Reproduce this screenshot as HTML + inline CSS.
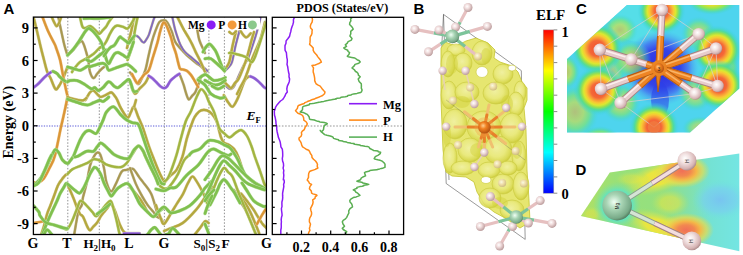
<!DOCTYPE html>
<html><head><meta charset="utf-8">
<style>
html,body{margin:0;padding:0;background:#fff;width:743px;height:255px;overflow:hidden}
svg{display:block}
.lab{font-family:"Liberation Sans",sans-serif;font-weight:bold;font-size:15px}
.ser{font-family:"Liberation Serif",serif;font-weight:bold}
</style></head><body>
<svg width="743" height="255" viewBox="0 0 743 255">
<defs>
 <clipPath id="clipP"><rect x="272.3" y="17.3" width="131.3" height="217.2"/></clipPath>
 <clipPath id="clipA"><rect x="33.4" y="17.1" width="233" height="217.4"/></clipPath>
 <linearGradient id="cbar" x1="0" y1="1" x2="0" y2="0">
  <stop offset="0" stop-color="#0000ff"/>
  <stop offset="0.25" stop-color="#00ffff"/>
  <stop offset="0.5" stop-color="#00ff00"/>
  <stop offset="0.75" stop-color="#ffff00"/>
  <stop offset="1" stop-color="#ff0000"/>
 </linearGradient>
</defs>
<!-- Panel labels -->
<text x="3.5" y="14.2" class="lab">A</text>
<text x="413.5" y="14.2" class="lab">B</text>
<text x="576" y="14.2" class="lab">C</text>
<text x="575.5" y="174.8" class="lab">D</text>

<!-- ===== Panel A frame ===== -->
<g id="panelA">
 <g stroke="#8a8a8a" stroke-width="0.95" stroke-dasharray="1.5,1.7" fill="none">
  <line x1="67.8" y1="17.5" x2="67.8" y2="234"/>
  <line x1="99.3" y1="17.5" x2="99.3" y2="234"/>
  <line x1="128.1" y1="17.5" x2="128.1" y2="234"/>
  <line x1="164.4" y1="17.5" x2="164.4" y2="234"/>
  <line x1="208.9" y1="17.5" x2="208.9" y2="234"/>
  <line x1="224.4" y1="17.5" x2="224.4" y2="234"/>
 </g>
 <line x1="33.4" y1="126" x2="266.4" y2="126" stroke="#5a5ad8" stroke-width="1" stroke-dasharray="1.3,1.3"/>
 <g id="bands" fill="none" stroke-width="2.5" stroke-linecap="round" stroke-linejoin="round" clip-path="url(#clipA)">
<path stroke="#c8c0a0" stroke-width="2.8" d="M58.3,17.0 C58.8,19.2 60.0,25.4 61.0,30.0 C62.0,34.6 63.2,40.2 64.2,44.4 C65.2,48.6 66.8,53.2 67.3,55.0"/><path stroke="#a89850" stroke-width="1.9" d="M58.3,17.0 C58.8,19.2 60.0,25.4 61.0,30.0 C62.0,34.6 63.2,40.2 64.2,44.4 C65.2,48.6 66.8,53.2 67.3,55.0"/>
<path stroke="#c8c0a0" stroke-width="2.8" d="M67.5,55.5 C68.5,54.5 72.0,51.2 73.6,49.5 C75.2,47.8 75.7,46.4 77.0,45.0 C78.3,43.6 80.3,40.9 81.5,41.0 C82.7,41.1 83.2,43.2 84.2,45.7 C85.2,48.2 86.7,53.9 87.4,56.3 C88.1,58.7 88.0,57.4 88.4,60.0 C88.8,62.6 89.1,69.0 90.0,72.0 C90.9,75.0 92.4,77.9 93.6,78.2 C94.8,78.5 95.8,75.4 97.0,74.0 C98.2,72.6 99.4,71.2 100.6,70.0 C101.8,68.8 103.4,67.5 104.0,67.0"/><path stroke="#a89850" stroke-width="1.9" d="M67.5,55.5 C68.5,54.5 72.0,51.2 73.6,49.5 C75.2,47.8 75.7,46.4 77.0,45.0 C78.3,43.6 80.3,40.9 81.5,41.0 C82.7,41.1 83.2,43.2 84.2,45.7 C85.2,48.2 86.7,53.9 87.4,56.3 C88.1,58.7 88.0,57.4 88.4,60.0 C88.8,62.6 89.1,69.0 90.0,72.0 C90.9,75.0 92.4,77.9 93.6,78.2 C94.8,78.5 95.8,75.4 97.0,74.0 C98.2,72.6 99.4,71.2 100.6,70.0 C101.8,68.8 103.4,67.5 104.0,67.0"/>
<path stroke="#c8c0a0" stroke-width="2.8" d="M74.2,234.5 C74.9,230.8 77.0,216.9 78.3,212.0 C79.6,207.1 81.0,207.4 81.8,205.0 C82.6,202.6 82.2,200.8 83.0,197.3 C83.8,193.8 85.3,189.2 86.5,184.0 C87.7,178.8 88.8,170.3 90.0,165.8 C91.2,161.3 92.3,159.2 93.6,157.0 C94.8,154.8 96.3,152.8 97.5,152.5 C98.7,152.2 99.4,152.4 100.5,155.0 C101.6,157.6 103.0,163.6 104.0,168.1 C105.0,172.6 105.2,178.1 106.4,182.0 C107.6,185.9 109.5,191.1 111.1,191.4 C112.7,191.7 114.0,187.3 115.8,184.0 C117.6,180.7 119.9,173.9 121.7,171.6 C123.5,169.2 124.6,170.4 126.4,169.9 C128.2,169.4 130.9,168.6 132.3,168.7 C133.7,168.8 133.5,169.0 134.7,170.5 C135.9,172.0 138.0,175.6 139.4,177.5 C140.8,179.4 140.9,179.3 142.9,182.0 C144.9,184.7 148.8,188.8 151.2,193.8 C153.6,198.8 155.5,208.0 157.1,212.0 C158.7,216.0 159.4,216.0 160.6,218.0 C161.8,220.0 163.5,222.8 164.1,223.8"/><path stroke="#a89850" stroke-width="1.9" d="M74.2,234.5 C74.9,230.8 77.0,216.9 78.3,212.0 C79.6,207.1 81.0,207.4 81.8,205.0 C82.6,202.6 82.2,200.8 83.0,197.3 C83.8,193.8 85.3,189.2 86.5,184.0 C87.7,178.8 88.8,170.3 90.0,165.8 C91.2,161.3 92.3,159.2 93.6,157.0 C94.8,154.8 96.3,152.8 97.5,152.5 C98.7,152.2 99.4,152.4 100.5,155.0 C101.6,157.6 103.0,163.6 104.0,168.1 C105.0,172.6 105.2,178.1 106.4,182.0 C107.6,185.9 109.5,191.1 111.1,191.4 C112.7,191.7 114.0,187.3 115.8,184.0 C117.6,180.7 119.9,173.9 121.7,171.6 C123.5,169.2 124.6,170.4 126.4,169.9 C128.2,169.4 130.9,168.6 132.3,168.7 C133.7,168.8 133.5,169.0 134.7,170.5 C135.9,172.0 138.0,175.6 139.4,177.5 C140.8,179.4 140.9,179.3 142.9,182.0 C144.9,184.7 148.8,188.8 151.2,193.8 C153.6,198.8 155.5,208.0 157.1,212.0 C158.7,216.0 159.4,216.0 160.6,218.0 C161.8,220.0 163.5,222.8 164.1,223.8"/>
<path stroke="#c8c0a0" stroke-width="2.6" d="M134.7,35.5 C135.1,35.6 136.2,35.6 137.0,36.0 C137.8,36.4 138.6,37.1 139.4,38.0 C140.2,38.9 141.2,40.8 142.0,41.5 C142.8,42.2 143.4,42.8 144.1,42.5 C144.8,42.2 145.2,41.2 146.0,40.0 C146.8,38.8 148.0,37.0 148.8,35.0 C149.6,33.0 150.2,30.5 151.0,28.0 C151.8,25.5 152.9,21.8 153.5,20.0 C154.1,18.2 154.3,17.9 154.5,17.5"/><path stroke="#8068c0" stroke-width="1.7" d="M134.7,35.5 C135.1,35.6 136.2,35.6 137.0,36.0 C137.8,36.4 138.6,37.1 139.4,38.0 C140.2,38.9 141.2,40.8 142.0,41.5 C142.8,42.2 143.4,42.8 144.1,42.5 C144.8,42.2 145.2,41.2 146.0,40.0 C146.8,38.8 148.0,37.0 148.8,35.0 C149.6,33.0 150.2,30.5 151.0,28.0 C151.8,25.5 152.9,21.8 153.5,20.0 C154.1,18.2 154.3,17.9 154.5,17.5"/>
<path stroke="#c8c0a0" stroke-width="2.8" d="M130.0,72.4 C130.7,73.3 132.6,76.0 134.0,78.0 C135.4,80.0 137.0,83.8 138.2,84.1 C139.4,84.4 139.8,82.3 141.0,80.0 C142.2,77.7 144.1,74.2 145.3,70.2 C146.6,66.2 147.4,60.7 148.5,56.0 C149.6,51.3 150.7,46.0 151.8,42.0 C152.9,38.0 153.7,35.3 155.0,32.0 C156.3,28.7 157.9,23.9 159.4,22.0 C160.9,20.1 162.8,20.3 164.1,20.3 C165.4,20.3 165.7,20.1 167.0,22.0 C168.3,23.9 170.4,28.2 171.8,31.5 C173.2,34.8 173.5,38.8 175.3,42.0 C177.1,45.2 180.4,48.4 182.8,51.0 C185.2,53.6 187.4,55.8 189.7,57.8 C192.0,59.8 194.7,61.9 196.5,63.3 C198.3,64.7 199.1,64.7 200.7,66.1 C202.3,67.5 205.3,70.6 206.2,71.5"/><path stroke="#a89850" stroke-width="1.9" d="M130.0,72.4 C130.7,73.3 132.6,76.0 134.0,78.0 C135.4,80.0 137.0,83.8 138.2,84.1 C139.4,84.4 139.8,82.3 141.0,80.0 C142.2,77.7 144.1,74.2 145.3,70.2 C146.6,66.2 147.4,60.7 148.5,56.0 C149.6,51.3 150.7,46.0 151.8,42.0 C152.9,38.0 153.7,35.3 155.0,32.0 C156.3,28.7 157.9,23.9 159.4,22.0 C160.9,20.1 162.8,20.3 164.1,20.3 C165.4,20.3 165.7,20.1 167.0,22.0 C168.3,23.9 170.4,28.2 171.8,31.5 C173.2,34.8 173.5,38.8 175.3,42.0 C177.1,45.2 180.4,48.4 182.8,51.0 C185.2,53.6 187.4,55.8 189.7,57.8 C192.0,59.8 194.7,61.9 196.5,63.3 C198.3,64.7 199.1,64.7 200.7,66.1 C202.3,67.5 205.3,70.6 206.2,71.5"/>
<path stroke="#c8c0a0" stroke-width="2.8" d="M179.4,73.9 C179.8,74.8 180.8,77.2 181.5,79.0 C182.2,80.8 182.9,82.7 183.7,85.0 C184.4,87.3 185.2,90.6 186.0,93.0 C186.8,95.4 187.8,99.0 188.8,99.5 C189.8,100.0 190.9,97.2 192.0,96.0 C193.1,94.8 194.3,94.0 195.3,92.2 C196.3,90.4 197.2,87.5 198.2,85.0 C199.1,82.5 200.5,78.3 201.0,77.0"/><path stroke="#a89850" stroke-width="1.9" d="M179.4,73.9 C179.8,74.8 180.8,77.2 181.5,79.0 C182.2,80.8 182.9,82.7 183.7,85.0 C184.4,87.3 185.2,90.6 186.0,93.0 C186.8,95.4 187.8,99.0 188.8,99.5 C189.8,100.0 190.9,97.2 192.0,96.0 C193.1,94.8 194.3,94.0 195.3,92.2 C196.3,90.4 197.2,87.5 198.2,85.0 C199.1,82.5 200.5,78.3 201.0,77.0"/>
<path stroke="#c8c0a0" stroke-width="2.8" d="M130.0,168.1 C131.0,170.8 133.9,179.3 135.9,184.0 C137.9,188.7 140.1,192.5 142.0,196.0 C143.9,199.5 145.7,202.3 147.6,205.0 C149.5,207.7 152.1,210.2 153.5,212.0 C154.9,213.8 155.0,215.0 156.0,216.0 C157.0,217.0 158.8,217.7 159.4,218.0"/><path stroke="#a89850" stroke-width="1.9" d="M130.0,168.1 C131.0,170.8 133.9,179.3 135.9,184.0 C137.9,188.7 140.1,192.5 142.0,196.0 C143.9,199.5 145.7,202.3 147.6,205.0 C149.5,207.7 152.1,210.2 153.5,212.0 C154.9,213.8 155.0,215.0 156.0,216.0 C157.0,217.0 158.8,217.7 159.4,218.0"/>
<path stroke="#c8c0a0" stroke-width="2.6" d="M172.4,17.5 C172.9,19.6 174.2,26.4 175.3,30.3 C176.4,34.2 177.9,38.3 178.8,40.9 C179.8,43.5 180.0,44.1 181.0,46.0 C182.0,47.9 183.2,50.1 185.0,52.0 C186.8,53.9 189.3,55.7 191.5,57.5 C193.7,59.3 196.2,61.5 198.0,63.0 C199.8,64.5 200.9,65.2 202.5,66.5 C204.1,67.8 206.7,70.2 207.5,71.0"/><path stroke="#8068c0" stroke-width="1.7" d="M172.4,17.5 C172.9,19.6 174.2,26.4 175.3,30.3 C176.4,34.2 177.9,38.3 178.8,40.9 C179.8,43.5 180.0,44.1 181.0,46.0 C182.0,47.9 183.2,50.1 185.0,52.0 C186.8,53.9 189.3,55.7 191.5,57.5 C193.7,59.3 196.2,61.5 198.0,63.0 C199.8,64.5 200.9,65.2 202.5,66.5 C204.1,67.8 206.7,70.2 207.5,71.0"/>
<path stroke="#c8c0a0" stroke-width="2.8" d="M197.0,28.0 C197.4,30.0 198.2,36.4 199.3,40.0 C200.4,43.6 202.5,47.4 203.4,49.6 C204.3,51.8 204.7,52.4 205.0,53.0"/><path stroke="#a89850" stroke-width="1.9" d="M197.0,28.0 C197.4,30.0 198.2,36.4 199.3,40.0 C200.4,43.6 202.5,47.4 203.4,49.6 C204.3,51.8 204.7,52.4 205.0,53.0"/>
<path stroke="#c8c0a0" stroke-width="2.6" d="M224.6,71.0 C225.2,70.5 226.8,69.5 228.0,68.0 C229.2,66.5 230.8,65.7 232.0,62.0 C233.2,58.3 234.3,51.1 235.5,46.0 C236.7,40.9 238.7,33.8 239.3,31.3"/><path stroke="#8068c0" stroke-width="1.7" d="M224.6,71.0 C225.2,70.5 226.8,69.5 228.0,68.0 C229.2,66.5 230.8,65.7 232.0,62.0 C233.2,58.3 234.3,51.1 235.5,46.0 C236.7,40.9 238.7,33.8 239.3,31.3"/>
<path stroke="#c8c0a0" stroke-width="2.6" d="M226.0,86.0 C226.7,86.5 228.7,89.0 230.0,89.0 C231.3,89.0 232.4,88.9 234.1,86.2 C235.8,83.5 238.3,76.5 240.0,73.0 C241.7,69.5 242.6,67.5 244.0,65.0 C245.4,62.5 246.5,62.2 248.2,58.0 C249.9,53.8 253.0,44.2 254.4,40.0 C255.8,35.8 255.8,35.3 256.5,33.0 C257.2,30.7 257.8,28.6 258.5,26.0 C259.2,23.4 260.2,18.9 260.5,17.5"/><path stroke="#8068c0" stroke-width="1.7" d="M226.0,86.0 C226.7,86.5 228.7,89.0 230.0,89.0 C231.3,89.0 232.4,88.9 234.1,86.2 C235.8,83.5 238.3,76.5 240.0,73.0 C241.7,69.5 242.6,67.5 244.0,65.0 C245.4,62.5 246.5,62.2 248.2,58.0 C249.9,53.8 253.0,44.2 254.4,40.0 C255.8,35.8 255.8,35.3 256.5,33.0 C257.2,30.7 257.8,28.6 258.5,26.0 C259.2,23.4 260.2,18.9 260.5,17.5"/>
<path stroke="#c8c0a0" stroke-width="2.8" d="M233.9,190.0 C234.9,191.8 237.9,197.4 240.0,201.0 C242.1,204.6 244.7,208.2 246.5,211.7 C248.3,215.2 249.5,218.4 251.0,222.0 C252.5,225.6 254.8,231.4 255.5,233.3"/><path stroke="#a89850" stroke-width="1.9" d="M233.9,190.0 C234.9,191.8 237.9,197.4 240.0,201.0 C242.1,204.6 244.7,208.2 246.5,211.7 C248.3,215.2 249.5,218.4 251.0,222.0 C252.5,225.6 254.8,231.4 255.5,233.3"/>
<path stroke="#d8d0a0" stroke-width="3.1" d="M33.4,19.0 C33.5,19.1 33.1,15.5 34.2,19.7 C35.3,23.9 38.6,38.0 40.1,44.4 C41.6,50.8 42.3,53.5 43.5,58.0 C44.7,62.5 45.9,68.0 47.1,71.4 C48.3,74.8 49.2,75.3 50.6,78.2 C52.0,81.1 54.0,87.7 55.4,89.0 C56.8,90.3 57.6,88.0 59.0,86.0 C60.4,84.0 62.2,80.2 63.6,77.0 C65.0,73.8 66.8,68.7 67.5,67.0"/><path stroke="#b4a83e" stroke-width="2.2" d="M33.4,19.0 C33.5,19.1 33.1,15.5 34.2,19.7 C35.3,23.9 38.6,38.0 40.1,44.4 C41.6,50.8 42.3,53.5 43.5,58.0 C44.7,62.5 45.9,68.0 47.1,71.4 C48.3,74.8 49.2,75.3 50.6,78.2 C52.0,81.1 54.0,87.7 55.4,89.0 C56.8,90.3 57.6,88.0 59.0,86.0 C60.4,84.0 62.2,80.2 63.6,77.0 C65.0,73.8 66.8,68.7 67.5,67.0"/>
<path stroke="#f0c890" stroke-width="3.1" d="M42.5,17.0 C43.4,19.3 46.0,26.4 48.0,31.0 C50.0,35.6 53.4,41.4 54.8,44.4 C56.2,47.4 55.6,46.5 56.5,49.0 C57.4,51.5 59.0,55.8 60.0,59.6 C61.0,63.4 61.6,67.9 62.4,72.0 C63.2,76.1 63.9,80.1 64.8,84.1 C65.6,88.1 67.0,94.0 67.5,96.0"/><path stroke="#da9637" stroke-width="2.2" d="M42.5,17.0 C43.4,19.3 46.0,26.4 48.0,31.0 C50.0,35.6 53.4,41.4 54.8,44.4 C56.2,47.4 55.6,46.5 56.5,49.0 C57.4,51.5 59.0,55.8 60.0,59.6 C61.0,63.4 61.6,67.9 62.4,72.0 C63.2,76.1 63.9,80.1 64.8,84.1 C65.6,88.1 67.0,94.0 67.5,96.0"/>
<path stroke="#d8d0a0" stroke-width="3.1" d="M51.8,17.0 C52.2,17.8 53.2,20.5 54.0,22.0 C54.8,23.5 55.7,26.0 56.5,26.2 C57.3,26.4 58.2,24.5 59.0,23.0 C59.8,21.5 60.8,18.0 61.2,17.0"/><path stroke="#b4a83e" stroke-width="2.2" d="M51.8,17.0 C52.2,17.8 53.2,20.5 54.0,22.0 C54.8,23.5 55.7,26.0 56.5,26.2 C57.3,26.4 58.2,24.5 59.0,23.0 C59.8,21.5 60.8,18.0 61.2,17.0"/>
<path stroke="#f0c890" stroke-width="3.1" d="M67.5,97.0 C67.0,99.7 65.3,108.0 64.2,113.0 C63.1,118.0 62.6,119.8 61.0,127.0 C59.4,134.2 56.7,149.2 54.8,156.0 C52.9,162.8 51.4,164.2 49.5,168.0 C47.6,171.8 45.6,176.2 43.6,178.7 C41.6,181.2 39.4,182.2 37.7,182.8 C36.0,183.4 34.1,182.3 33.4,182.2"/><path stroke="#da9637" stroke-width="2.2" d="M67.5,97.0 C67.0,99.7 65.3,108.0 64.2,113.0 C63.1,118.0 62.6,119.8 61.0,127.0 C59.4,134.2 56.7,149.2 54.8,156.0 C52.9,162.8 51.4,164.2 49.5,168.0 C47.6,171.8 45.6,176.2 43.6,178.7 C41.6,181.2 39.4,182.2 37.7,182.8 C36.0,183.4 34.1,182.3 33.4,182.2"/>
<path stroke="#d8d0a0" stroke-width="3.1" d="M41.2,234.5 C41.7,233.1 43.0,229.4 44.0,226.0 C45.0,222.6 46.0,217.5 47.1,214.0 C48.2,210.5 49.5,208.0 50.6,205.0 C51.8,202.0 52.8,199.2 54.0,196.0 C55.2,192.8 56.7,188.3 57.7,186.0 C58.7,183.7 58.8,183.7 60.0,182.0 C61.2,180.3 63.5,177.1 64.8,175.8 C66.0,174.5 67.0,174.3 67.5,174.0"/><path stroke="#b4a83e" stroke-width="2.2" d="M41.2,234.5 C41.7,233.1 43.0,229.4 44.0,226.0 C45.0,222.6 46.0,217.5 47.1,214.0 C48.2,210.5 49.5,208.0 50.6,205.0 C51.8,202.0 52.8,199.2 54.0,196.0 C55.2,192.8 56.7,188.3 57.7,186.0 C58.7,183.7 58.8,183.7 60.0,182.0 C61.2,180.3 63.5,177.1 64.8,175.8 C66.0,174.5 67.0,174.3 67.5,174.0"/>
<path stroke="#f0c890" stroke-width="3.1" d="M33.4,223.2 C34.9,222.9 40.3,221.7 42.4,221.5 C44.5,221.3 45.4,221.9 46.0,222.0"/><path stroke="#da9637" stroke-width="2.2" d="M33.4,223.2 C34.9,222.9 40.3,221.7 42.4,221.5 C44.5,221.3 45.4,221.9 46.0,222.0"/>
<path stroke="#d8d0a0" stroke-width="3.1" d="M85.4,100.0 C86.2,98.7 88.6,94.0 90.0,92.4 C91.4,90.8 92.2,90.1 93.6,90.6 C95.0,91.1 97.1,94.2 98.3,95.3 C99.5,96.4 99.7,97.1 101.0,97.0 C102.3,96.9 104.7,95.5 106.4,94.7 C108.1,93.9 109.8,92.4 111.1,92.4 C112.4,92.5 113.0,93.8 114.0,95.0 C115.0,96.2 115.9,97.3 117.0,99.4 C118.1,101.5 118.9,104.5 120.5,107.4 C122.1,110.3 125.0,115.2 126.4,116.8 C127.8,118.4 128.0,117.6 128.8,116.8 C129.6,116.0 130.1,113.7 131.0,112.0 C131.9,110.3 132.9,106.0 134.1,106.8 C135.3,107.6 136.7,113.3 138.2,116.8 C139.7,120.3 141.1,123.1 142.9,128.0 C144.7,132.9 147.1,141.2 148.8,146.0 C150.5,150.8 151.4,153.0 153.0,157.0 C154.6,161.0 156.7,166.5 158.2,170.0 C159.7,173.5 161.0,176.1 162.0,178.0 C163.0,179.9 163.8,180.9 164.2,181.5"/><path stroke="#b4a83e" stroke-width="2.2" d="M85.4,100.0 C86.2,98.7 88.6,94.0 90.0,92.4 C91.4,90.8 92.2,90.1 93.6,90.6 C95.0,91.1 97.1,94.2 98.3,95.3 C99.5,96.4 99.7,97.1 101.0,97.0 C102.3,96.9 104.7,95.5 106.4,94.7 C108.1,93.9 109.8,92.4 111.1,92.4 C112.4,92.5 113.0,93.8 114.0,95.0 C115.0,96.2 115.9,97.3 117.0,99.4 C118.1,101.5 118.9,104.5 120.5,107.4 C122.1,110.3 125.0,115.2 126.4,116.8 C127.8,118.4 128.0,117.6 128.8,116.8 C129.6,116.0 130.1,113.7 131.0,112.0 C131.9,110.3 132.9,106.0 134.1,106.8 C135.3,107.6 136.7,113.3 138.2,116.8 C139.7,120.3 141.1,123.1 142.9,128.0 C144.7,132.9 147.1,141.2 148.8,146.0 C150.5,150.8 151.4,153.0 153.0,157.0 C154.6,161.0 156.7,166.5 158.2,170.0 C159.7,173.5 161.0,176.1 162.0,178.0 C163.0,179.9 163.8,180.9 164.2,181.5"/>
<path stroke="#d8d0a0" stroke-width="3.1" d="M67.5,97.0 C67.9,97.2 68.4,97.5 70.0,98.0 C71.6,98.5 74.9,99.4 77.1,99.8 C79.3,100.2 81.4,100.7 83.0,100.4 C84.6,100.1 85.9,98.4 86.5,98.0"/><path stroke="#b4a83e" stroke-width="2.2" d="M67.5,97.0 C67.9,97.2 68.4,97.5 70.0,98.0 C71.6,98.5 74.9,99.4 77.1,99.8 C79.3,100.2 81.4,100.7 83.0,100.4 C84.6,100.1 85.9,98.4 86.5,98.0"/>
<path stroke="#d8d0a0" stroke-width="3.1" d="M67.5,184.4 C68.5,186.8 72.0,194.6 73.6,198.5 C75.2,202.4 76.0,205.3 77.1,207.9 C78.2,210.5 79.0,212.5 80.0,214.0 C81.0,215.5 81.7,214.6 83.0,216.8 C84.3,219.0 86.5,225.2 87.7,227.4 C88.9,229.7 89.1,230.4 90.0,230.3 C90.9,230.2 91.8,228.3 93.0,227.0 C94.2,225.7 95.8,224.4 97.1,222.6 C98.4,220.8 99.8,217.8 101.0,216.0 C102.2,214.2 102.8,213.5 104.0,212.0 C105.2,210.5 106.9,208.5 108.0,207.0 C109.1,205.5 109.4,202.5 110.5,203.0 C111.6,203.5 113.0,206.3 114.6,210.0 C116.2,213.7 118.4,221.3 120.0,225.0 C121.6,228.7 122.7,230.6 124.0,232.0 C125.3,233.4 125.0,233.0 127.6,233.2 C130.2,233.4 137.4,233.2 139.4,233.2"/><path stroke="#b4a83e" stroke-width="2.2" d="M67.5,184.4 C68.5,186.8 72.0,194.6 73.6,198.5 C75.2,202.4 76.0,205.3 77.1,207.9 C78.2,210.5 79.0,212.5 80.0,214.0 C81.0,215.5 81.7,214.6 83.0,216.8 C84.3,219.0 86.5,225.2 87.7,227.4 C88.9,229.7 89.1,230.4 90.0,230.3 C90.9,230.2 91.8,228.3 93.0,227.0 C94.2,225.7 95.8,224.4 97.1,222.6 C98.4,220.8 99.8,217.8 101.0,216.0 C102.2,214.2 102.8,213.5 104.0,212.0 C105.2,210.5 106.9,208.5 108.0,207.0 C109.1,205.5 109.4,202.5 110.5,203.0 C111.6,203.5 113.0,206.3 114.6,210.0 C116.2,213.7 118.4,221.3 120.0,225.0 C121.6,228.7 122.7,230.6 124.0,232.0 C125.3,233.4 125.0,233.0 127.6,233.2 C130.2,233.4 137.4,233.2 139.4,233.2"/>
<path stroke="#d8d0a0" stroke-width="3.1" d="M127.0,48.0 C127.3,46.7 128.2,43.0 129.0,40.0 C129.8,37.0 130.7,33.8 131.5,30.0 C132.3,26.2 133.6,19.6 134.0,17.5"/><path stroke="#b4a83e" stroke-width="2.2" d="M127.0,48.0 C127.3,46.7 128.2,43.0 129.0,40.0 C129.8,37.0 130.7,33.8 131.5,30.0 C132.3,26.2 133.6,19.6 134.0,17.5"/>
<path stroke="#f0c890" stroke-width="3.1" d="M132.0,74.0 C132.8,75.5 135.7,82.0 137.0,83.0 C138.3,84.0 138.8,81.4 140.0,80.0 C141.2,78.6 142.6,76.3 144.1,74.7 C145.6,73.1 147.3,73.2 148.8,70.2 C150.3,67.2 151.5,61.7 153.0,57.0 C154.5,52.3 156.4,46.2 157.6,42.0 C158.8,37.8 159.1,35.1 160.0,32.0 C160.9,28.9 162.0,24.5 163.0,23.2 C164.0,21.9 164.6,22.2 165.9,24.4 C167.2,26.6 169.4,32.8 170.6,36.2 C171.8,39.6 172.1,42.1 173.0,45.0 C173.9,47.9 175.1,50.4 176.0,53.7 C176.9,57.0 178.0,62.2 178.7,64.7 C179.4,67.2 179.4,68.0 180.1,68.8 C180.8,69.6 181.7,69.2 182.8,69.5 C184.0,69.8 185.6,70.0 187.0,70.9 C188.4,71.8 189.6,73.2 191.0,75.0 C192.4,76.8 194.1,79.9 195.3,81.9 C196.5,83.9 197.7,86.2 198.2,87.0"/><path stroke="#da9637" stroke-width="2.2" d="M132.0,74.0 C132.8,75.5 135.7,82.0 137.0,83.0 C138.3,84.0 138.8,81.4 140.0,80.0 C141.2,78.6 142.6,76.3 144.1,74.7 C145.6,73.1 147.3,73.2 148.8,70.2 C150.3,67.2 151.5,61.7 153.0,57.0 C154.5,52.3 156.4,46.2 157.6,42.0 C158.8,37.8 159.1,35.1 160.0,32.0 C160.9,28.9 162.0,24.5 163.0,23.2 C164.0,21.9 164.6,22.2 165.9,24.4 C167.2,26.6 169.4,32.8 170.6,36.2 C171.8,39.6 172.1,42.1 173.0,45.0 C173.9,47.9 175.1,50.4 176.0,53.7 C176.9,57.0 178.0,62.2 178.7,64.7 C179.4,67.2 179.4,68.0 180.1,68.8 C180.8,69.6 181.7,69.2 182.8,69.5 C184.0,69.8 185.6,70.0 187.0,70.9 C188.4,71.8 189.6,73.2 191.0,75.0 C192.4,76.8 194.1,79.9 195.3,81.9 C196.5,83.9 197.7,86.2 198.2,87.0"/>
<path stroke="#d8d0a0" stroke-width="3.1" d="M130.0,81.8 C130.8,83.8 133.1,92.3 134.7,93.5 C136.3,94.7 137.6,90.6 139.4,88.8 C141.2,87.0 143.7,85.1 145.3,82.9 C146.9,80.8 148.2,77.1 148.8,75.9"/><path stroke="#b4a83e" stroke-width="2.2" d="M130.0,81.8 C130.8,83.8 133.1,92.3 134.7,93.5 C136.3,94.7 137.6,90.6 139.4,88.8 C141.2,87.0 143.7,85.1 145.3,82.9 C146.9,80.8 148.2,77.1 148.8,75.9"/>
<path stroke="#d8d0a0" stroke-width="3.1" d="M134.1,106.8 L136.0,100.0"/><path stroke="#b4a83e" stroke-width="2.2" d="M134.1,106.8 L136.0,100.0"/>
<path stroke="#d8d0a0" stroke-width="3.1" d="M164.1,183.0 C165.1,181.8 167.9,178.2 170.0,176.0 C172.1,173.8 174.4,173.2 176.5,170.0 C178.6,166.8 180.6,162.3 182.3,157.0 C184.1,151.7 185.2,144.2 187.0,138.0 C188.8,131.8 191.6,124.0 193.2,120.0 C194.8,116.0 195.5,115.6 196.8,114.0 C198.1,112.4 199.4,111.0 201.1,110.4 C202.8,109.8 205.1,109.8 206.9,110.4 C208.7,111.0 210.4,112.2 212.0,114.0 C213.6,115.8 215.4,118.5 216.6,121.2 C217.8,123.9 218.3,127.3 219.0,130.0 C219.7,132.7 220.2,135.3 221.0,137.4 C221.8,139.5 222.5,141.2 223.8,142.5 C225.1,143.8 227.3,143.9 229.0,145.0 C230.7,146.1 232.4,147.0 234.0,149.0 C235.6,151.0 237.0,153.8 238.3,157.0 C239.6,160.2 241.4,166.2 242.0,168.0"/><path stroke="#b4a83e" stroke-width="2.2" d="M164.1,183.0 C165.1,181.8 167.9,178.2 170.0,176.0 C172.1,173.8 174.4,173.2 176.5,170.0 C178.6,166.8 180.6,162.3 182.3,157.0 C184.1,151.7 185.2,144.2 187.0,138.0 C188.8,131.8 191.6,124.0 193.2,120.0 C194.8,116.0 195.5,115.6 196.8,114.0 C198.1,112.4 199.4,111.0 201.1,110.4 C202.8,109.8 205.1,109.8 206.9,110.4 C208.7,111.0 210.4,112.2 212.0,114.0 C213.6,115.8 215.4,118.5 216.6,121.2 C217.8,123.9 218.3,127.3 219.0,130.0 C219.7,132.7 220.2,135.3 221.0,137.4 C221.8,139.5 222.5,141.2 223.8,142.5 C225.1,143.8 227.3,143.9 229.0,145.0 C230.7,146.1 232.4,147.0 234.0,149.0 C235.6,151.0 237.0,153.8 238.3,157.0 C239.6,160.2 241.4,166.2 242.0,168.0"/>
<path stroke="#d8d0a0" stroke-width="3.1" d="M155.9,205.0 C156.7,207.2 159.2,214.9 160.6,218.0 C162.0,221.1 162.3,224.6 164.1,223.8 C165.9,223.0 169.0,216.4 171.2,213.0 C173.3,209.6 175.0,206.7 177.0,203.5 C179.0,200.3 181.2,197.4 183.0,194.0 C184.8,190.6 186.4,185.9 188.0,183.0 C189.6,180.1 190.9,176.7 192.4,176.5 C193.9,176.3 195.3,179.4 197.0,182.0 C198.7,184.6 201.3,189.5 202.6,192.0 C203.9,194.5 204.3,195.8 205.0,197.0 C205.7,198.2 206.2,199.5 207.0,199.0 C207.8,198.5 209.2,195.5 210.0,194.0 C210.8,192.5 211.7,190.7 212.0,190.0"/><path stroke="#b4a83e" stroke-width="2.2" d="M155.9,205.0 C156.7,207.2 159.2,214.9 160.6,218.0 C162.0,221.1 162.3,224.6 164.1,223.8 C165.9,223.0 169.0,216.4 171.2,213.0 C173.3,209.6 175.0,206.7 177.0,203.5 C179.0,200.3 181.2,197.4 183.0,194.0 C184.8,190.6 186.4,185.9 188.0,183.0 C189.6,180.1 190.9,176.7 192.4,176.5 C193.9,176.3 195.3,179.4 197.0,182.0 C198.7,184.6 201.3,189.5 202.6,192.0 C203.9,194.5 204.3,195.8 205.0,197.0 C205.7,198.2 206.2,199.5 207.0,199.0 C207.8,198.5 209.2,195.5 210.0,194.0 C210.8,192.5 211.7,190.7 212.0,190.0"/>
<path stroke="#d8d0a0" stroke-width="3.1" d="M164.1,231.0 C165.2,230.5 167.5,229.5 170.6,228.2 C173.7,226.9 178.4,226.2 182.7,223.0 C187.0,219.8 192.8,213.5 196.5,209.2 C200.2,204.9 203.1,200.1 205.1,197.2 C207.1,194.3 207.4,193.7 208.6,192.0 C209.8,190.3 211.4,187.8 212.0,187.0"/><path stroke="#b4a83e" stroke-width="2.2" d="M164.1,231.0 C165.2,230.5 167.5,229.5 170.6,228.2 C173.7,226.9 178.4,226.2 182.7,223.0 C187.0,219.8 192.8,213.5 196.5,209.2 C200.2,204.9 203.1,200.1 205.1,197.2 C207.1,194.3 207.4,193.7 208.6,192.0 C209.8,190.3 211.4,187.8 212.0,187.0"/>
<path stroke="#d8d0a0" stroke-width="3.1" d="M194.8,234.5 C195.7,233.4 198.3,230.2 200.0,228.0 C201.7,225.8 203.7,222.1 205.1,221.3 C206.5,220.5 208.0,222.7 208.6,223.0"/><path stroke="#b4a83e" stroke-width="2.2" d="M194.8,234.5 C195.7,233.4 198.3,230.2 200.0,228.0 C201.7,225.8 203.7,222.1 205.1,221.3 C206.5,220.5 208.0,222.7 208.6,223.0"/>
<path stroke="#d8d0a0" stroke-width="3.1" d="M130.0,186.7 C131.7,188.8 137.1,194.8 140.0,199.0 C142.9,203.2 146.3,209.8 147.6,212.0"/><path stroke="#b4a83e" stroke-width="2.2" d="M130.0,186.7 C131.7,188.8 137.1,194.8 140.0,199.0 C142.9,203.2 146.3,209.8 147.6,212.0"/>
<path stroke="#d8d0a0" stroke-width="3.1" d="M177.6,17.5 C178.6,19.4 181.7,25.8 183.5,29.1 C185.3,32.4 187.1,35.0 188.5,37.5 C189.9,40.0 190.9,41.8 192.0,44.0 C193.1,46.2 193.8,48.0 195.2,51.0 C196.6,54.0 199.1,58.6 200.7,62.0 C202.3,65.4 204.1,69.9 204.8,71.5"/><path stroke="#b4a83e" stroke-width="2.2" d="M177.6,17.5 C178.6,19.4 181.7,25.8 183.5,29.1 C185.3,32.4 187.1,35.0 188.5,37.5 C189.9,40.0 190.9,41.8 192.0,44.0 C193.1,46.2 193.8,48.0 195.2,51.0 C196.6,54.0 199.1,58.6 200.7,62.0 C202.3,65.4 204.1,69.9 204.8,71.5"/>
<path stroke="#d8d0a0" stroke-width="3.1" d="M225.3,68.8 C226.0,67.7 228.1,65.8 229.3,62.0 C230.5,58.2 231.4,51.1 232.5,46.0 C233.6,40.9 235.4,33.8 236.0,31.3"/><path stroke="#b4a83e" stroke-width="2.2" d="M225.3,68.8 C226.0,67.7 228.1,65.8 229.3,62.0 C230.5,58.2 231.4,51.1 232.5,46.0 C233.6,40.9 235.4,33.8 236.0,31.3"/>
<path stroke="#d8d0a0" stroke-width="3.1" d="M223.8,95.1 C224.5,96.3 226.8,100.5 228.2,102.4 C229.6,104.3 231.0,107.1 232.5,106.7 C234.0,106.3 235.6,102.8 237.0,100.0 C238.4,97.2 239.7,93.2 241.0,90.0 C242.3,86.8 243.5,82.7 244.7,80.5 C245.9,78.3 247.1,77.7 248.0,77.0 C248.9,76.3 250.0,76.5 250.4,76.4"/><path stroke="#b4a83e" stroke-width="2.2" d="M223.8,95.1 C224.5,96.3 226.8,100.5 228.2,102.4 C229.6,104.3 231.0,107.1 232.5,106.7 C234.0,106.3 235.6,102.8 237.0,100.0 C238.4,97.2 239.7,93.2 241.0,90.0 C242.3,86.8 243.5,82.7 244.7,80.5 C245.9,78.3 247.1,77.7 248.0,77.0 C248.9,76.3 250.0,76.5 250.4,76.4"/>
<path stroke="#d8d0a0" stroke-width="3.1" d="M224.2,82.0 C224.9,82.7 227.3,85.2 228.5,86.2 C229.7,87.2 230.2,88.5 231.3,88.0 C232.4,87.5 233.8,84.5 235.0,83.0 C236.2,81.5 237.1,81.5 238.4,79.2 C239.7,76.9 241.2,72.8 242.6,69.3 C244.0,65.8 245.3,62.9 246.8,58.0 C248.3,53.1 250.4,44.3 251.6,40.0 C252.8,35.7 253.6,33.3 254.0,32.0"/><path stroke="#b4a83e" stroke-width="2.2" d="M224.2,82.0 C224.9,82.7 227.3,85.2 228.5,86.2 C229.7,87.2 230.2,88.5 231.3,88.0 C232.4,87.5 233.8,84.5 235.0,83.0 C236.2,81.5 237.1,81.5 238.4,79.2 C239.7,76.9 241.2,72.8 242.6,69.3 C244.0,65.8 245.3,62.9 246.8,58.0 C248.3,53.1 250.4,44.3 251.6,40.0 C252.8,35.7 253.6,33.3 254.0,32.0"/>
<path stroke="#d8d0a0" stroke-width="3.1" d="M237.0,94.0 C237.7,92.7 239.7,88.5 241.0,86.0 C242.3,83.5 243.6,81.5 244.7,79.2 C245.8,76.9 246.2,75.5 247.5,72.0 C248.8,68.5 250.4,63.3 252.5,58.0 C254.6,52.7 258.4,44.7 260.1,40.0 C261.9,35.3 262.2,33.0 263.0,30.0 C263.8,27.0 264.7,23.3 265.0,22.0"/><path stroke="#b4a83e" stroke-width="2.2" d="M237.0,94.0 C237.7,92.7 239.7,88.5 241.0,86.0 C242.3,83.5 243.6,81.5 244.7,79.2 C245.8,76.9 246.2,75.5 247.5,72.0 C248.8,68.5 250.4,63.3 252.5,58.0 C254.6,52.7 258.4,44.7 260.1,40.0 C261.9,35.3 262.2,33.0 263.0,30.0 C263.8,27.0 264.7,23.3 265.0,22.0"/>
<path stroke="#d8d0a0" stroke-width="3.1" d="M240.7,31.3 C241.6,32.3 244.3,37.0 246.0,37.3 C247.7,37.6 249.9,34.0 250.7,33.3"/><path stroke="#b4a83e" stroke-width="2.2" d="M240.7,31.3 C241.6,32.3 244.3,37.0 246.0,37.3 C247.7,37.6 249.9,34.0 250.7,33.3"/>
<path stroke="#d8d0a0" stroke-width="3.1" d="M229.3,32.0 C229.9,32.3 231.6,34.1 232.7,34.0 C233.8,33.9 235.4,31.8 236.0,31.3"/><path stroke="#b4a83e" stroke-width="2.2" d="M229.3,32.0 C229.9,32.3 231.6,34.1 232.7,34.0 C233.8,33.9 235.4,31.8 236.0,31.3"/>
<path stroke="#d8d0a0" stroke-width="3.1" d="M237.5,190.0 C238.6,191.8 241.9,197.4 244.0,201.0 C246.1,204.6 248.3,208.0 250.1,211.7 C251.9,215.4 253.5,219.4 255.0,223.0 C256.5,226.6 258.5,231.6 259.2,233.3"/><path stroke="#b4a83e" stroke-width="2.2" d="M237.5,190.0 C238.6,191.8 241.9,197.4 244.0,201.0 C246.1,204.6 248.3,208.0 250.1,211.7 C251.9,215.4 253.5,219.4 255.0,223.0 C256.5,226.6 258.5,231.6 259.2,233.3"/>
<path stroke="#d8d0a0" stroke-width="3.1" d="M241.1,193.6 C242.1,194.8 244.9,198.3 247.0,201.0 C249.1,203.7 251.9,207.2 253.7,209.9 C255.5,212.6 256.5,214.6 258.0,217.0 C259.5,219.4 261.4,222.5 262.8,224.3 C264.2,226.1 265.8,227.4 266.4,228.0"/><path stroke="#b4a83e" stroke-width="2.2" d="M241.1,193.6 C242.1,194.8 244.9,198.3 247.0,201.0 C249.1,203.7 251.9,207.2 253.7,209.9 C255.5,212.6 256.5,214.6 258.0,217.0 C259.5,219.4 261.4,222.5 262.8,224.3 C264.2,226.1 265.8,227.4 266.4,228.0"/>
<path stroke="#f0c890" stroke-width="3.1" d="M257.0,224.0 C257.8,222.5 260.4,217.7 262.0,215.0 C263.6,212.3 265.7,209.2 266.4,208.0"/><path stroke="#da9637" stroke-width="2.2" d="M257.0,224.0 C257.8,222.5 260.4,217.7 262.0,215.0 C263.6,212.3 265.7,209.2 266.4,208.0"/>
<path stroke="#c0a8e8" stroke-width="3.1" d="M33.4,87.6 C34.2,87.0 36.1,85.8 38.0,84.0 C39.9,82.2 42.7,78.9 44.8,77.0 C46.9,75.1 49.2,73.4 50.6,72.4 C52.0,71.5 52.6,71.5 53.0,71.3"/><path stroke="#8c5ad2" stroke-width="2.2" d="M33.4,87.6 C34.2,87.0 36.1,85.8 38.0,84.0 C39.9,82.2 42.7,78.9 44.8,77.0 C46.9,75.1 49.2,73.4 50.6,72.4 C52.0,71.5 52.6,71.5 53.0,71.3"/>
<path stroke="#d0dca0" stroke-width="3.1" d="M80.1,17.4 C80.5,19.0 81.6,25.0 82.5,26.8 C83.4,28.6 84.0,28.1 85.4,28.0 C86.8,27.9 88.8,25.6 90.7,26.2 C92.6,26.8 95.1,30.2 96.6,31.5 C98.1,32.8 98.4,34.0 99.5,33.8 C100.6,33.5 101.9,31.2 103.0,30.0 C104.1,28.8 105.0,28.1 106.0,26.8 C107.0,25.5 107.7,23.6 108.8,22.0 C109.9,20.4 111.9,17.8 112.5,17.0"/><path stroke="#a2b440" stroke-width="2.2" d="M80.1,17.4 C80.5,19.0 81.6,25.0 82.5,26.8 C83.4,28.6 84.0,28.1 85.4,28.0 C86.8,27.9 88.8,25.6 90.7,26.2 C92.6,26.8 95.1,30.2 96.6,31.5 C98.1,32.8 98.4,34.0 99.5,33.8 C100.6,33.5 101.9,31.2 103.0,30.0 C104.1,28.8 105.0,28.1 106.0,26.8 C107.0,25.5 107.7,23.6 108.8,22.0 C109.9,20.4 111.9,17.8 112.5,17.0"/>
<path stroke="#d0dca0" stroke-width="3.1" d="M72.0,72.0 C72.5,71.3 73.5,69.6 74.8,67.9 C76.1,66.2 78.0,63.6 80.0,62.0 C82.0,60.4 84.2,59.9 86.5,58.5 C88.8,57.1 91.4,55.5 93.6,53.8 C95.8,52.0 97.9,49.3 99.5,48.0 C101.1,46.7 101.9,47.0 103.0,46.0 C104.1,45.0 104.8,44.0 106.0,42.0 C107.2,40.0 108.8,36.1 110.0,33.8 C111.2,31.5 112.3,29.4 113.5,28.0 C114.7,26.6 115.4,25.8 117.0,25.6 C118.6,25.4 121.1,26.3 122.9,26.8 C124.7,27.3 126.0,29.3 127.6,28.5 C129.2,27.7 131.1,23.8 132.3,22.0 C133.5,20.2 134.2,18.7 134.6,18.0"/><path stroke="#a2b440" stroke-width="2.2" d="M72.0,72.0 C72.5,71.3 73.5,69.6 74.8,67.9 C76.1,66.2 78.0,63.6 80.0,62.0 C82.0,60.4 84.2,59.9 86.5,58.5 C88.8,57.1 91.4,55.5 93.6,53.8 C95.8,52.0 97.9,49.3 99.5,48.0 C101.1,46.7 101.9,47.0 103.0,46.0 C104.1,45.0 104.8,44.0 106.0,42.0 C107.2,40.0 108.8,36.1 110.0,33.8 C111.2,31.5 112.3,29.4 113.5,28.0 C114.7,26.6 115.4,25.8 117.0,25.6 C118.6,25.4 121.1,26.3 122.9,26.8 C124.7,27.3 126.0,29.3 127.6,28.5 C129.2,27.7 131.1,23.8 132.3,22.0 C133.5,20.2 134.2,18.7 134.6,18.0"/>
<path stroke="#d0dca0" stroke-width="3.1" d="M67.5,174.0 C68.3,173.2 70.2,170.7 72.4,169.3 C74.6,167.9 78.0,166.9 80.6,165.8 C83.1,164.7 85.5,163.9 87.7,162.8 C89.9,161.7 91.8,159.8 93.6,159.3 C95.4,158.8 96.7,159.4 98.3,159.9 C99.9,160.4 101.7,161.4 103.0,162.2 C104.3,163.0 104.5,163.8 106.4,164.6 C108.3,165.4 112.0,166.5 114.6,166.9 C117.1,167.3 119.7,167.5 121.7,166.9 C123.7,166.3 125.2,164.6 126.4,163.4 C127.6,162.2 127.8,161.6 128.8,160.0 C129.8,158.4 131.0,156.2 132.4,154.0 C133.8,151.8 135.9,148.3 137.0,147.0 C138.1,145.7 137.8,145.4 138.8,146.0 C139.8,146.6 141.9,149.0 143.0,150.7 C144.1,152.4 144.1,153.4 145.3,156.0 C146.5,158.6 148.4,162.7 150.0,166.0 C151.6,169.3 153.6,173.0 155.0,176.0 C156.4,179.0 157.7,182.7 158.2,184.0"/><path stroke="#a2b440" stroke-width="2.2" d="M67.5,174.0 C68.3,173.2 70.2,170.7 72.4,169.3 C74.6,167.9 78.0,166.9 80.6,165.8 C83.1,164.7 85.5,163.9 87.7,162.8 C89.9,161.7 91.8,159.8 93.6,159.3 C95.4,158.8 96.7,159.4 98.3,159.9 C99.9,160.4 101.7,161.4 103.0,162.2 C104.3,163.0 104.5,163.8 106.4,164.6 C108.3,165.4 112.0,166.5 114.6,166.9 C117.1,167.3 119.7,167.5 121.7,166.9 C123.7,166.3 125.2,164.6 126.4,163.4 C127.6,162.2 127.8,161.6 128.8,160.0 C129.8,158.4 131.0,156.2 132.4,154.0 C133.8,151.8 135.9,148.3 137.0,147.0 C138.1,145.7 137.8,145.4 138.8,146.0 C139.8,146.6 141.9,149.0 143.0,150.7 C144.1,152.4 144.1,153.4 145.3,156.0 C146.5,158.6 148.4,162.7 150.0,166.0 C151.6,169.3 153.6,173.0 155.0,176.0 C156.4,179.0 157.7,182.7 158.2,184.0"/>
<path stroke="#d0dca0" stroke-width="3.1" d="M63.6,228.0 C64.2,228.2 66.0,230.3 67.5,229.0 C69.0,227.7 70.8,223.7 72.4,220.3 C74.0,216.9 75.7,211.8 77.1,208.5 C78.5,205.2 79.0,201.3 80.6,200.8 C82.2,200.3 84.5,203.6 86.5,205.5 C88.5,207.4 90.8,210.2 92.4,212.0 C94.0,213.8 94.7,216.2 96.0,216.2 C97.3,216.2 99.0,213.7 100.5,212.0 C102.0,210.3 103.3,207.9 105.0,206.0 C106.7,204.1 109.2,200.6 110.5,200.8 C111.8,201.0 112.1,204.1 113.0,207.0 C113.9,209.9 114.9,213.6 116.0,218.0 C117.1,222.4 118.7,230.4 119.4,233.2 C120.1,235.9 119.9,234.3 120.0,234.5"/><path stroke="#a2b440" stroke-width="2.2" d="M63.6,228.0 C64.2,228.2 66.0,230.3 67.5,229.0 C69.0,227.7 70.8,223.7 72.4,220.3 C74.0,216.9 75.7,211.8 77.1,208.5 C78.5,205.2 79.0,201.3 80.6,200.8 C82.2,200.3 84.5,203.6 86.5,205.5 C88.5,207.4 90.8,210.2 92.4,212.0 C94.0,213.8 94.7,216.2 96.0,216.2 C97.3,216.2 99.0,213.7 100.5,212.0 C102.0,210.3 103.3,207.9 105.0,206.0 C106.7,204.1 109.2,200.6 110.5,200.8 C111.8,201.0 112.1,204.1 113.0,207.0 C113.9,209.9 114.9,213.6 116.0,218.0 C117.1,222.4 118.7,230.4 119.4,233.2 C120.1,235.9 119.9,234.3 120.0,234.5"/>
<path stroke="#c0a8e8" stroke-width="3.1" d="M124.0,233.6 L139.4,233.6"/><path stroke="#8c5ad2" stroke-width="2.2" d="M124.0,233.6 L139.4,233.6"/>
<path stroke="#d0dca0" stroke-width="3.1" d="M127.6,60.0 C128.0,58.8 129.2,55.1 130.0,52.6 C130.8,50.1 131.6,48.8 132.4,45.0 C133.2,41.2 134.2,34.6 135.0,30.0 C135.8,25.4 137.1,19.6 137.5,17.5"/><path stroke="#a2b440" stroke-width="2.2" d="M127.6,60.0 C128.0,58.8 129.2,55.1 130.0,52.6 C130.8,50.1 131.6,48.8 132.4,45.0 C133.2,41.2 134.2,34.6 135.0,30.0 C135.8,25.4 137.1,19.6 137.5,17.5"/>
<path stroke="#c0a8e8" stroke-width="3.1" d="M148.8,75.9 C149.3,76.2 150.8,77.0 152.0,78.0 C153.2,79.0 154.5,80.4 155.9,81.8 C157.3,83.2 159.2,85.4 160.6,86.5 C162.0,87.6 163.0,88.2 164.1,88.2 C165.2,88.2 165.9,87.8 167.0,86.5 C168.1,85.2 169.2,82.2 170.7,80.4 C172.2,78.7 174.6,77.1 176.0,76.0 C177.4,74.9 178.8,74.2 179.4,73.9"/><path stroke="#8c5ad2" stroke-width="2.2" d="M148.8,75.9 C149.3,76.2 150.8,77.0 152.0,78.0 C153.2,79.0 154.5,80.4 155.9,81.8 C157.3,83.2 159.2,85.4 160.6,86.5 C162.0,87.6 163.0,88.2 164.1,88.2 C165.2,88.2 165.9,87.8 167.0,86.5 C168.1,85.2 169.2,82.2 170.7,80.4 C172.2,78.7 174.6,77.1 176.0,76.0 C177.4,74.9 178.8,74.2 179.4,73.9"/>
<path stroke="#d0dca0" stroke-width="3.1" d="M164.1,181.5 C164.7,180.9 166.5,180.4 167.8,178.2 C169.1,175.9 170.7,171.9 172.1,168.0 C173.5,164.1 175.0,160.0 176.5,155.0 C178.0,150.0 179.4,143.7 181.0,138.0 C182.6,132.3 184.2,125.5 185.9,121.0 C187.6,116.5 189.2,115.2 191.0,111.1 C192.8,107.0 195.1,100.2 196.8,96.6 C198.5,93.0 199.7,89.8 201.1,89.3 C202.5,88.8 204.2,91.6 205.5,93.7 C206.8,95.8 207.6,99.1 209.0,102.0 C210.4,104.9 212.4,108.1 213.7,111.1 C215.0,114.1 215.6,117.1 216.6,120.0 C217.6,122.9 218.3,126.5 219.5,128.7 C220.7,130.9 222.1,131.6 223.8,133.0 C225.5,134.4 227.7,137.4 229.6,137.4 C231.5,137.4 233.5,134.2 235.4,133.0 C237.3,131.8 239.3,129.6 241.2,130.1 C243.1,130.6 245.3,133.3 247.0,136.0 C248.7,138.7 250.2,142.8 251.4,146.0 C252.6,149.2 252.9,150.8 254.3,155.0 C255.7,159.2 258.3,166.2 260.0,171.0 C261.7,175.8 263.3,181.2 264.4,184.0 C265.5,186.8 266.1,187.3 266.4,188.0"/><path stroke="#a2b440" stroke-width="2.2" d="M164.1,181.5 C164.7,180.9 166.5,180.4 167.8,178.2 C169.1,175.9 170.7,171.9 172.1,168.0 C173.5,164.1 175.0,160.0 176.5,155.0 C178.0,150.0 179.4,143.7 181.0,138.0 C182.6,132.3 184.2,125.5 185.9,121.0 C187.6,116.5 189.2,115.2 191.0,111.1 C192.8,107.0 195.1,100.2 196.8,96.6 C198.5,93.0 199.7,89.8 201.1,89.3 C202.5,88.8 204.2,91.6 205.5,93.7 C206.8,95.8 207.6,99.1 209.0,102.0 C210.4,104.9 212.4,108.1 213.7,111.1 C215.0,114.1 215.6,117.1 216.6,120.0 C217.6,122.9 218.3,126.5 219.5,128.7 C220.7,130.9 222.1,131.6 223.8,133.0 C225.5,134.4 227.7,137.4 229.6,137.4 C231.5,137.4 233.5,134.2 235.4,133.0 C237.3,131.8 239.3,129.6 241.2,130.1 C243.1,130.6 245.3,133.3 247.0,136.0 C248.7,138.7 250.2,142.8 251.4,146.0 C252.6,149.2 252.9,150.8 254.3,155.0 C255.7,159.2 258.3,166.2 260.0,171.0 C261.7,175.8 263.3,181.2 264.4,184.0 C265.5,186.8 266.1,187.3 266.4,188.0"/>
<path stroke="#d0dca0" stroke-width="3.1" d="M160.0,186.0 C160.7,186.4 162.7,188.2 164.0,188.5 C165.3,188.8 166.5,189.1 168.0,188.0 C169.5,186.9 171.3,184.3 173.0,182.0 C174.7,179.7 176.2,177.6 178.0,174.0 C179.8,170.4 182.2,163.5 184.1,160.3 C186.0,157.1 188.6,155.9 189.5,155.0"/><path stroke="#a2b440" stroke-width="2.2" d="M160.0,186.0 C160.7,186.4 162.7,188.2 164.0,188.5 C165.3,188.8 166.5,189.1 168.0,188.0 C169.5,186.9 171.3,184.3 173.0,182.0 C174.7,179.7 176.2,177.6 178.0,174.0 C179.8,170.4 182.2,163.5 184.1,160.3 C186.0,157.1 188.6,155.9 189.5,155.0"/>
<path stroke="#d0dca0" stroke-width="3.1" d="M229.0,53.0 C229.4,53.0 230.0,52.5 231.2,52.7 C232.4,52.9 234.3,53.6 236.1,54.1 C237.8,54.6 239.9,54.9 241.7,55.5 C243.5,56.1 245.3,56.6 246.7,57.6 C248.1,58.6 249.3,60.5 250.2,61.2 C251.1,61.9 251.5,62.6 252.3,61.9 C253.1,61.2 254.0,59.5 255.0,57.0 C256.0,54.5 257.3,50.5 258.5,47.0 C259.7,43.5 260.9,39.5 262.0,36.0 C263.1,32.5 264.3,28.3 265.0,26.0 C265.7,23.7 266.2,22.7 266.4,22.0"/><path stroke="#a2b440" stroke-width="2.2" d="M229.0,53.0 C229.4,53.0 230.0,52.5 231.2,52.7 C232.4,52.9 234.3,53.6 236.1,54.1 C237.8,54.6 239.9,54.9 241.7,55.5 C243.5,56.1 245.3,56.6 246.7,57.6 C248.1,58.6 249.3,60.5 250.2,61.2 C251.1,61.9 251.5,62.6 252.3,61.9 C253.1,61.2 254.0,59.5 255.0,57.0 C256.0,54.5 257.3,50.5 258.5,47.0 C259.7,43.5 260.9,39.5 262.0,36.0 C263.1,32.5 264.3,28.3 265.0,26.0 C265.7,23.7 266.2,22.7 266.4,22.0"/>
<path stroke="#c0a8e8" stroke-width="3.1" d="M250.4,76.4 C251.0,76.7 252.9,77.3 254.0,78.0 C255.1,78.7 256.0,79.4 257.2,80.4 C258.4,81.4 259.8,82.8 261.0,84.0 C262.2,85.2 263.5,86.8 264.4,87.5 C265.3,88.2 266.1,88.1 266.4,88.2"/><path stroke="#8c5ad2" stroke-width="2.2" d="M250.4,76.4 C251.0,76.7 252.9,77.3 254.0,78.0 C255.1,78.7 256.0,79.4 257.2,80.4 C258.4,81.4 259.8,82.8 261.0,84.0 C262.2,85.2 263.5,86.8 264.4,87.5 C265.3,88.2 266.1,88.1 266.4,88.2"/>
<path stroke="#d0dca0" stroke-width="3.1" d="M207.0,203.0 C207.9,201.2 210.4,196.2 212.2,192.0 C214.0,187.8 216.1,182.0 218.0,178.0 C219.9,174.0 222.1,169.0 223.8,168.0 C225.5,167.0 226.6,170.6 228.0,172.0 C229.4,173.4 230.8,173.4 232.5,176.7 C234.2,180.0 236.0,186.2 238.3,192.0 C240.6,197.8 243.6,204.8 246.5,211.7 C249.4,218.6 253.9,229.5 255.5,233.3 C257.1,237.1 255.9,234.3 256.0,234.5"/><path stroke="#a2b440" stroke-width="2.2" d="M207.0,203.0 C207.9,201.2 210.4,196.2 212.2,192.0 C214.0,187.8 216.1,182.0 218.0,178.0 C219.9,174.0 222.1,169.0 223.8,168.0 C225.5,167.0 226.6,170.6 228.0,172.0 C229.4,173.4 230.8,173.4 232.5,176.7 C234.2,180.0 236.0,186.2 238.3,192.0 C240.6,197.8 243.6,204.8 246.5,211.7 C249.4,218.6 253.9,229.5 255.5,233.3 C257.1,237.1 255.9,234.3 256.0,234.5"/>
<path stroke="#b8e0a0" stroke-width="3.5" d="M53.0,71.3 C53.7,71.7 55.8,72.5 57.0,73.5 C58.2,74.5 58.7,75.8 60.0,77.0 C61.3,78.2 63.5,80.2 64.8,81.0 C66.0,81.8 67.0,81.7 67.5,81.8"/><path stroke="#80c04e" stroke-width="2.6" d="M53.0,71.3 C53.7,71.7 55.8,72.5 57.0,73.5 C58.2,74.5 58.7,75.8 60.0,77.0 C61.3,78.2 63.5,80.2 64.8,81.0 C66.0,81.8 67.0,81.7 67.5,81.8"/>
<path stroke="#b8e0a0" stroke-width="3.5" d="M33.4,184.5 C33.8,184.3 34.7,184.7 36.0,183.5 C37.3,182.3 39.4,180.4 41.2,177.5 C43.1,174.6 45.3,169.6 47.1,165.8 C48.9,162.1 50.6,157.7 52.0,155.0 C53.4,152.3 54.2,149.8 55.4,149.5 C56.6,149.2 57.8,151.3 59.0,153.0 C60.2,154.7 61.0,158.2 62.4,159.9 C63.8,161.7 66.2,163.3 67.5,163.5 C68.8,163.7 69.0,162.2 70.0,161.0 C71.0,159.8 73.0,156.8 73.6,156.0"/><path stroke="#80c04e" stroke-width="2.6" d="M33.4,184.5 C33.8,184.3 34.7,184.7 36.0,183.5 C37.3,182.3 39.4,180.4 41.2,177.5 C43.1,174.6 45.3,169.6 47.1,165.8 C48.9,162.1 50.6,157.7 52.0,155.0 C53.4,152.3 54.2,149.8 55.4,149.5 C56.6,149.2 57.8,151.3 59.0,153.0 C60.2,154.7 61.0,158.2 62.4,159.9 C63.8,161.7 66.2,163.3 67.5,163.5 C68.8,163.7 69.0,162.2 70.0,161.0 C71.0,159.8 73.0,156.8 73.6,156.0"/>
<path stroke="#b8e0a0" stroke-width="3.5" d="M33.4,186.0 C34.2,185.5 36.7,185.3 38.5,183.0 C40.3,180.7 42.2,175.8 44.0,172.0 C45.8,168.2 47.8,162.8 49.0,160.0 C50.2,157.2 51.1,155.8 51.5,155.0"/><path stroke="#80c04e" stroke-width="2.6" d="M33.4,186.0 C34.2,185.5 36.7,185.3 38.5,183.0 C40.3,180.7 42.2,175.8 44.0,172.0 C45.8,168.2 47.8,162.8 49.0,160.0 C50.2,157.2 51.1,155.8 51.5,155.0"/>
<path stroke="#b8e0a0" stroke-width="3.5" d="M42.4,234.5 C43.2,232.5 45.5,226.3 47.1,222.6 C48.7,218.8 50.2,215.4 51.8,212.0 C53.4,208.6 55.1,205.0 56.5,202.0 C57.9,199.0 58.8,196.3 60.0,193.8 C61.2,191.3 63.0,188.7 64.0,187.0 C65.0,185.3 65.4,184.0 66.0,183.5 C66.6,183.0 67.2,183.9 67.5,184.0"/><path stroke="#80c04e" stroke-width="2.6" d="M42.4,234.5 C43.2,232.5 45.5,226.3 47.1,222.6 C48.7,218.8 50.2,215.4 51.8,212.0 C53.4,208.6 55.1,205.0 56.5,202.0 C57.9,199.0 58.8,196.3 60.0,193.8 C61.2,191.3 63.0,188.7 64.0,187.0 C65.0,185.3 65.4,184.0 66.0,183.5 C66.6,183.0 67.2,183.9 67.5,184.0"/>
<path stroke="#b8e0a0" stroke-width="3.5" d="M33.4,205.5 C34.3,206.6 37.8,210.3 38.9,212.0 C40.0,213.7 38.8,213.8 40.0,215.6 C41.2,217.4 43.6,221.0 46.0,222.6 C48.4,224.2 51.3,224.1 54.2,225.0 C57.1,225.9 61.4,227.4 63.6,228.0 C65.8,228.6 66.8,228.4 67.5,228.5"/><path stroke="#80c04e" stroke-width="2.6" d="M33.4,205.5 C34.3,206.6 37.8,210.3 38.9,212.0 C40.0,213.7 38.8,213.8 40.0,215.6 C41.2,217.4 43.6,221.0 46.0,222.6 C48.4,224.2 51.3,224.1 54.2,225.0 C57.1,225.9 61.4,227.4 63.6,228.0 C65.8,228.6 66.8,228.4 67.5,228.5"/>
<path stroke="#b8e0a0" stroke-width="3.5" d="M44.0,234.5 C44.5,233.7 45.8,229.7 47.1,229.7 C48.4,229.7 51.0,233.7 51.8,234.5"/><path stroke="#80c04e" stroke-width="2.6" d="M44.0,234.5 C44.5,233.7 45.8,229.7 47.1,229.7 C48.4,229.7 51.0,233.7 51.8,234.5"/>
<path stroke="#b8e0a0" stroke-width="3.5" d="M67.5,55.2 C68.5,54.2 71.7,51.2 73.6,48.9 C75.5,46.6 77.1,44.1 78.9,41.5 C80.7,38.9 82.9,35.0 84.2,33.0 C85.5,31.0 86.1,30.2 87.0,29.5 C87.9,28.8 88.3,28.0 89.5,28.5 C90.7,29.0 92.6,30.9 94.2,32.6 C95.8,34.3 97.6,36.6 98.9,38.5 C100.2,40.4 101.1,41.8 102.0,44.0 C102.9,46.2 103.8,49.4 104.5,52.0 C105.2,54.6 105.7,57.6 106.4,59.6 C107.1,61.6 108.0,63.8 108.8,63.8 C109.6,63.8 110.1,61.3 111.1,59.6 C112.1,57.9 113.4,55.0 114.6,53.8 C115.8,52.6 116.8,52.4 118.2,52.6 C119.6,52.8 121.3,54.2 122.9,55.0 C124.5,55.8 126.2,58.3 127.6,57.3 C129.0,56.3 130.1,51.5 131.1,49.0 C132.1,46.5 133.1,43.2 133.5,42.0"/><path stroke="#80c04e" stroke-width="2.6" d="M67.5,55.2 C68.5,54.2 71.7,51.2 73.6,48.9 C75.5,46.6 77.1,44.1 78.9,41.5 C80.7,38.9 82.9,35.0 84.2,33.0 C85.5,31.0 86.1,30.2 87.0,29.5 C87.9,28.8 88.3,28.0 89.5,28.5 C90.7,29.0 92.6,30.9 94.2,32.6 C95.8,34.3 97.6,36.6 98.9,38.5 C100.2,40.4 101.1,41.8 102.0,44.0 C102.9,46.2 103.8,49.4 104.5,52.0 C105.2,54.6 105.7,57.6 106.4,59.6 C107.1,61.6 108.0,63.8 108.8,63.8 C109.6,63.8 110.1,61.3 111.1,59.6 C112.1,57.9 113.4,55.0 114.6,53.8 C115.8,52.6 116.8,52.4 118.2,52.6 C119.6,52.8 121.3,54.2 122.9,55.0 C124.5,55.8 126.2,58.3 127.6,57.3 C129.0,56.3 130.1,51.5 131.1,49.0 C132.1,46.5 133.1,43.2 133.5,42.0"/>
<path stroke="#b8e0a0" stroke-width="3.5" d="M84.0,18.5 C85.0,18.4 88.2,18.2 90.0,18.2 C91.8,18.2 92.7,18.5 95.0,18.5 C97.3,18.5 101.5,18.2 104.0,18.0 C106.5,17.8 109.0,17.5 110.0,17.4"/><path stroke="#80c04e" stroke-width="2.6" d="M84.0,18.5 C85.0,18.4 88.2,18.2 90.0,18.2 C91.8,18.2 92.7,18.5 95.0,18.5 C97.3,18.5 101.5,18.2 104.0,18.0 C106.5,17.8 109.0,17.5 110.0,17.4"/>
<path stroke="#b8e0a0" stroke-width="3.5" d="M86.5,59.6 C87.3,59.9 89.2,62.0 91.2,61.4 C93.2,60.8 96.3,57.6 98.3,56.1 C100.3,54.6 101.7,53.6 103.0,52.6 C104.3,51.6 105.5,50.4 106.0,50.0"/><path stroke="#80c04e" stroke-width="2.6" d="M86.5,59.6 C87.3,59.9 89.2,62.0 91.2,61.4 C93.2,60.8 96.3,57.6 98.3,56.1 C100.3,54.6 101.7,53.6 103.0,52.6 C104.3,51.6 105.5,50.4 106.0,50.0"/>
<path stroke="#b8e0a0" stroke-width="3.5" d="M67.5,67.0 C68.7,67.3 72.6,68.5 74.8,69.0 C77.0,69.5 78.4,70.7 80.6,70.2 C82.8,69.7 86.1,66.7 87.7,66.1 C89.3,65.5 88.5,67.0 90.0,66.7 C91.5,66.4 94.8,65.0 97.0,64.4 C99.2,63.8 101.3,63.0 102.9,63.2 C104.5,63.4 105.4,64.3 106.4,65.5 C107.4,66.7 107.2,69.8 108.8,70.2 C110.4,70.6 113.4,68.7 115.8,67.9 C118.2,67.1 120.9,66.1 122.9,65.5 C124.9,64.9 126.0,64.0 127.6,64.4 C129.2,64.8 130.9,66.7 132.3,67.9 C133.7,69.1 135.2,70.8 135.8,71.4"/><path stroke="#80c04e" stroke-width="2.6" d="M67.5,67.0 C68.7,67.3 72.6,68.5 74.8,69.0 C77.0,69.5 78.4,70.7 80.6,70.2 C82.8,69.7 86.1,66.7 87.7,66.1 C89.3,65.5 88.5,67.0 90.0,66.7 C91.5,66.4 94.8,65.0 97.0,64.4 C99.2,63.8 101.3,63.0 102.9,63.2 C104.5,63.4 105.4,64.3 106.4,65.5 C107.4,66.7 107.2,69.8 108.8,70.2 C110.4,70.6 113.4,68.7 115.8,67.9 C118.2,67.1 120.9,66.1 122.9,65.5 C124.9,64.9 126.0,64.0 127.6,64.4 C129.2,64.8 130.9,66.7 132.3,67.9 C133.7,69.1 135.2,70.8 135.8,71.4"/>
<path stroke="#b8e0a0" stroke-width="3.5" d="M67.5,81.8 C67.9,81.6 68.4,80.8 70.0,80.6 C71.6,80.4 74.6,80.0 77.0,80.6 C79.4,81.2 81.8,82.7 84.2,84.1 C86.6,85.5 89.4,88.2 91.2,88.8 C93.0,89.4 93.6,87.3 94.8,87.6 C96.0,87.9 96.9,90.6 98.3,90.6 C99.7,90.6 101.2,89.1 103.0,87.6 C104.8,86.1 106.9,82.0 108.8,81.8 C110.7,81.6 113.0,85.5 114.6,86.5 C116.2,87.5 116.6,88.2 118.2,87.6 C119.8,87.0 122.2,84.3 124.0,82.9 C125.8,81.5 127.6,79.2 128.8,79.4 C130.0,79.6 130.3,82.1 131.1,84.1 C131.9,86.1 132.5,90.0 133.5,91.2 C134.5,92.4 136.4,91.2 137.0,91.2"/><path stroke="#80c04e" stroke-width="2.6" d="M67.5,81.8 C67.9,81.6 68.4,80.8 70.0,80.6 C71.6,80.4 74.6,80.0 77.0,80.6 C79.4,81.2 81.8,82.7 84.2,84.1 C86.6,85.5 89.4,88.2 91.2,88.8 C93.0,89.4 93.6,87.3 94.8,87.6 C96.0,87.9 96.9,90.6 98.3,90.6 C99.7,90.6 101.2,89.1 103.0,87.6 C104.8,86.1 106.9,82.0 108.8,81.8 C110.7,81.6 113.0,85.5 114.6,86.5 C116.2,87.5 116.6,88.2 118.2,87.6 C119.8,87.0 122.2,84.3 124.0,82.9 C125.8,81.5 127.6,79.2 128.8,79.4 C130.0,79.6 130.3,82.1 131.1,84.1 C131.9,86.1 132.5,90.0 133.5,91.2 C134.5,92.4 136.4,91.2 137.0,91.2"/>
<path stroke="#b8e0a0" stroke-width="3.5" d="M67.5,99.2 C68.7,99.6 72.4,100.7 74.8,101.5 C77.2,102.3 79.6,103.3 81.8,103.9 C84.0,104.5 85.7,105.2 87.7,105.0 C89.7,104.8 91.6,103.5 93.6,102.7 C95.6,101.9 97.9,100.6 99.5,100.4 C101.1,100.2 101.8,101.7 103.0,101.5 C104.2,101.3 105.4,100.0 106.4,99.2 C107.4,98.5 108.4,97.4 108.8,97.0"/><path stroke="#80c04e" stroke-width="2.6" d="M67.5,99.2 C68.7,99.6 72.4,100.7 74.8,101.5 C77.2,102.3 79.6,103.3 81.8,103.9 C84.0,104.5 85.7,105.2 87.7,105.0 C89.7,104.8 91.6,103.5 93.6,102.7 C95.6,101.9 97.9,100.6 99.5,100.4 C101.1,100.2 101.8,101.7 103.0,101.5 C104.2,101.3 105.4,100.0 106.4,99.2 C107.4,98.5 108.4,97.4 108.8,97.0"/>
<path stroke="#b8e0a0" stroke-width="3.5" d="M73.6,156.0 C74.8,153.2 78.6,143.0 80.6,139.0 C82.6,135.0 83.8,133.3 85.4,131.9 C87.0,130.5 88.2,130.4 90.0,130.7 C91.8,131.0 94.4,134.0 96.0,133.6 C97.6,133.2 98.3,130.2 99.5,128.0 C100.7,125.8 101.8,123.1 103.0,120.4 C104.2,117.8 104.7,114.4 106.4,112.1 C108.2,109.8 111.2,106.4 113.5,106.8 C115.8,107.2 118.3,112.3 120.5,114.5 C122.7,116.7 124.4,118.4 126.4,119.8 C128.4,121.2 130.5,122.1 132.3,122.7 C134.1,123.3 135.8,122.7 137.0,123.3 C138.2,123.9 138.2,123.7 139.4,126.5 C140.6,129.3 142.4,135.4 144.0,140.0 C145.6,144.6 147.1,149.3 148.8,154.0 C150.5,158.7 152.0,163.3 154.0,168.0 C156.0,172.7 158.9,179.5 160.6,182.2 C162.3,184.9 163.6,183.7 164.2,184.0"/><path stroke="#80c04e" stroke-width="2.6" d="M73.6,156.0 C74.8,153.2 78.6,143.0 80.6,139.0 C82.6,135.0 83.8,133.3 85.4,131.9 C87.0,130.5 88.2,130.4 90.0,130.7 C91.8,131.0 94.4,134.0 96.0,133.6 C97.6,133.2 98.3,130.2 99.5,128.0 C100.7,125.8 101.8,123.1 103.0,120.4 C104.2,117.8 104.7,114.4 106.4,112.1 C108.2,109.8 111.2,106.4 113.5,106.8 C115.8,107.2 118.3,112.3 120.5,114.5 C122.7,116.7 124.4,118.4 126.4,119.8 C128.4,121.2 130.5,122.1 132.3,122.7 C134.1,123.3 135.8,122.7 137.0,123.3 C138.2,123.9 138.2,123.7 139.4,126.5 C140.6,129.3 142.4,135.4 144.0,140.0 C145.6,144.6 147.1,149.3 148.8,154.0 C150.5,158.7 152.0,163.3 154.0,168.0 C156.0,172.7 158.9,179.5 160.6,182.2 C162.3,184.9 163.6,183.7 164.2,184.0"/>
<path stroke="#b8e0a0" stroke-width="3.5" d="M75.0,157.0 C75.5,156.8 76.4,156.9 78.3,156.0 C80.2,155.1 84.0,152.1 86.5,151.3 C89.0,150.5 91.8,152.0 93.6,151.3 C95.3,150.6 95.8,148.4 97.0,147.0 C98.2,145.6 99.3,143.3 100.5,143.0 C101.7,142.7 102.6,143.9 104.0,145.0 C105.4,146.1 107.1,147.9 108.8,149.5 C110.5,151.1 112.0,153.2 114.0,154.5 C116.0,155.8 118.2,156.8 120.5,157.5 C122.8,158.2 125.8,159.1 127.6,158.7 C129.4,158.3 130.0,156.6 131.1,155.2 C132.2,153.8 132.7,151.5 134.0,150.0 C135.3,148.5 137.3,145.9 138.8,146.0 C140.3,146.1 141.9,149.0 143.0,150.7 C144.1,152.4 144.1,153.4 145.3,156.0 C146.5,158.6 148.4,162.7 150.0,166.0 C151.6,169.3 153.6,173.0 155.0,176.0 C156.4,179.0 157.7,182.7 158.2,184.0"/><path stroke="#80c04e" stroke-width="2.6" d="M75.0,157.0 C75.5,156.8 76.4,156.9 78.3,156.0 C80.2,155.1 84.0,152.1 86.5,151.3 C89.0,150.5 91.8,152.0 93.6,151.3 C95.3,150.6 95.8,148.4 97.0,147.0 C98.2,145.6 99.3,143.3 100.5,143.0 C101.7,142.7 102.6,143.9 104.0,145.0 C105.4,146.1 107.1,147.9 108.8,149.5 C110.5,151.1 112.0,153.2 114.0,154.5 C116.0,155.8 118.2,156.8 120.5,157.5 C122.8,158.2 125.8,159.1 127.6,158.7 C129.4,158.3 130.0,156.6 131.1,155.2 C132.2,153.8 132.7,151.5 134.0,150.0 C135.3,148.5 137.3,145.9 138.8,146.0 C140.3,146.1 141.9,149.0 143.0,150.7 C144.1,152.4 144.1,153.4 145.3,156.0 C146.5,158.6 148.4,162.7 150.0,166.0 C151.6,169.3 153.6,173.0 155.0,176.0 C156.4,179.0 157.7,182.7 158.2,184.0"/>
<path stroke="#b8e0a0" stroke-width="3.5" d="M67.5,184.0 C68.7,185.0 72.8,188.7 74.8,190.2 C76.8,191.7 78.1,193.4 79.5,193.2 C80.9,193.0 81.8,190.9 83.0,189.0 C84.2,187.1 85.3,184.5 86.5,182.0 C87.7,179.5 88.8,176.3 90.0,174.0 C91.2,171.7 92.8,169.2 93.6,168.1 C94.4,167.0 94.4,167.4 95.0,167.5 C95.6,167.6 96.1,167.4 97.0,168.5 C97.9,169.6 99.4,171.6 100.6,174.0 C101.8,176.4 102.8,180.2 104.0,183.0 C105.2,185.8 106.8,188.8 108.0,191.0 C109.2,193.2 110.1,195.8 111.1,196.1 C112.1,196.4 112.8,194.4 114.0,193.0 C115.2,191.6 116.3,189.4 118.2,187.9 C120.1,186.4 123.4,184.4 125.2,183.8 C127.0,183.2 127.4,183.1 128.8,184.4 C130.2,185.7 132.1,189.1 133.5,191.4 C134.9,193.8 135.8,196.2 137.0,198.5 C138.2,200.8 138.8,202.8 140.6,205.0 C142.4,207.2 145.4,210.0 147.6,212.0 C149.8,214.0 151.7,216.8 153.5,216.8 C155.3,216.8 156.4,213.6 158.2,212.0 C160.0,210.4 163.1,208.2 164.1,207.4"/><path stroke="#80c04e" stroke-width="2.6" d="M67.5,184.0 C68.7,185.0 72.8,188.7 74.8,190.2 C76.8,191.7 78.1,193.4 79.5,193.2 C80.9,193.0 81.8,190.9 83.0,189.0 C84.2,187.1 85.3,184.5 86.5,182.0 C87.7,179.5 88.8,176.3 90.0,174.0 C91.2,171.7 92.8,169.2 93.6,168.1 C94.4,167.0 94.4,167.4 95.0,167.5 C95.6,167.6 96.1,167.4 97.0,168.5 C97.9,169.6 99.4,171.6 100.6,174.0 C101.8,176.4 102.8,180.2 104.0,183.0 C105.2,185.8 106.8,188.8 108.0,191.0 C109.2,193.2 110.1,195.8 111.1,196.1 C112.1,196.4 112.8,194.4 114.0,193.0 C115.2,191.6 116.3,189.4 118.2,187.9 C120.1,186.4 123.4,184.4 125.2,183.8 C127.0,183.2 127.4,183.1 128.8,184.4 C130.2,185.7 132.1,189.1 133.5,191.4 C134.9,193.8 135.8,196.2 137.0,198.5 C138.2,200.8 138.8,202.8 140.6,205.0 C142.4,207.2 145.4,210.0 147.6,212.0 C149.8,214.0 151.7,216.8 153.5,216.8 C155.3,216.8 156.4,213.6 158.2,212.0 C160.0,210.4 163.1,208.2 164.1,207.4"/>
<path stroke="#b8e0a0" stroke-width="3.5" d="M97.0,214.0 C98.2,213.2 101.8,210.7 104.0,209.0 C106.2,207.3 109.0,204.8 110.0,204.0"/><path stroke="#80c04e" stroke-width="2.6" d="M97.0,214.0 C98.2,213.2 101.8,210.7 104.0,209.0 C106.2,207.3 109.0,204.8 110.0,204.0"/>
<path stroke="#b8e0a0" stroke-width="3.5" d="M104.0,56.0 C104.7,55.0 106.8,51.5 108.0,50.0 C109.2,48.5 109.9,47.8 111.0,47.0 C112.1,46.2 113.2,46.6 114.6,45.0 C116.0,43.4 118.2,38.6 119.4,37.4 C120.6,36.2 120.5,37.3 121.7,38.0 C122.9,38.7 125.2,40.6 126.4,41.5 C127.6,42.4 128.0,43.5 128.8,43.2 C129.6,43.0 130.0,41.3 131.0,40.0 C132.0,38.7 134.1,36.2 134.7,35.5"/><path stroke="#80c04e" stroke-width="2.6" d="M104.0,56.0 C104.7,55.0 106.8,51.5 108.0,50.0 C109.2,48.5 109.9,47.8 111.0,47.0 C112.1,46.2 113.2,46.6 114.6,45.0 C116.0,43.4 118.2,38.6 119.4,37.4 C120.6,36.2 120.5,37.3 121.7,38.0 C122.9,38.7 125.2,40.6 126.4,41.5 C127.6,42.4 128.0,43.5 128.8,43.2 C129.6,43.0 130.0,41.3 131.0,40.0 C132.0,38.7 134.1,36.2 134.7,35.5"/>
<path stroke="#b8e0a0" stroke-width="3.5" d="M189.5,155.0 C190.0,154.5 190.7,152.9 192.4,151.9 C194.1,150.9 197.5,150.4 199.7,149.0 C201.9,147.6 203.8,144.6 205.5,143.2 C207.2,141.8 207.7,140.6 209.8,140.3 C211.9,140.1 215.7,141.0 218.0,141.7 C220.3,142.4 221.9,143.6 223.8,144.6 C225.7,145.6 227.9,146.1 229.6,147.5 C231.3,148.9 232.6,151.2 234.0,153.3 C235.4,155.4 236.1,156.3 238.0,160.0 C239.9,163.7 242.9,171.6 245.6,175.3 C248.3,179.1 251.2,180.3 254.3,182.5 C257.4,184.7 262.4,187.2 264.4,188.3 C266.4,189.4 266.1,188.9 266.4,189.0"/><path stroke="#80c04e" stroke-width="2.6" d="M189.5,155.0 C190.0,154.5 190.7,152.9 192.4,151.9 C194.1,150.9 197.5,150.4 199.7,149.0 C201.9,147.6 203.8,144.6 205.5,143.2 C207.2,141.8 207.7,140.6 209.8,140.3 C211.9,140.1 215.7,141.0 218.0,141.7 C220.3,142.4 221.9,143.6 223.8,144.6 C225.7,145.6 227.9,146.1 229.6,147.5 C231.3,148.9 232.6,151.2 234.0,153.3 C235.4,155.4 236.1,156.3 238.0,160.0 C239.9,163.7 242.9,171.6 245.6,175.3 C248.3,179.1 251.2,180.3 254.3,182.5 C257.4,184.7 262.4,187.2 264.4,188.3 C266.4,189.4 266.1,188.9 266.4,189.0"/>
<path stroke="#b8e0a0" stroke-width="3.5" d="M155.9,189.0 C157.3,189.3 161.8,191.0 164.1,190.8 C166.4,190.6 167.9,188.6 170.0,187.9 C172.1,187.2 173.7,189.0 176.5,186.9 C179.3,184.8 183.0,178.9 186.6,175.3 C190.2,171.7 195.0,168.5 198.2,165.1 C201.3,161.7 203.7,157.3 205.5,155.0 C207.3,152.7 207.6,152.0 209.0,151.0 C210.4,150.0 211.5,148.6 213.7,149.0 C215.9,149.4 220.0,152.2 222.4,153.3 C224.8,154.4 226.8,155.4 228.2,155.5 C229.6,155.6 230.6,154.2 231.1,154.0"/><path stroke="#80c04e" stroke-width="2.6" d="M155.9,189.0 C157.3,189.3 161.8,191.0 164.1,190.8 C166.4,190.6 167.9,188.6 170.0,187.9 C172.1,187.2 173.7,189.0 176.5,186.9 C179.3,184.8 183.0,178.9 186.6,175.3 C190.2,171.7 195.0,168.5 198.2,165.1 C201.3,161.7 203.7,157.3 205.5,155.0 C207.3,152.7 207.6,152.0 209.0,151.0 C210.4,150.0 211.5,148.6 213.7,149.0 C215.9,149.4 220.0,152.2 222.4,153.3 C224.8,154.4 226.8,155.4 228.2,155.5 C229.6,155.6 230.6,154.2 231.1,154.0"/>
<path stroke="#b8e0a0" stroke-width="3.5" d="M158.2,212.0 C159.2,211.2 162.0,206.9 164.1,207.0 C166.2,207.1 168.1,212.0 170.6,212.7 C173.1,213.4 176.0,212.2 179.2,211.0 C182.4,209.8 186.1,208.4 189.6,205.8 C193.1,203.2 197.3,198.4 199.9,195.4 C202.5,192.4 203.0,190.4 205.0,188.0 C207.0,185.6 210.8,182.2 212.0,181.0"/><path stroke="#80c04e" stroke-width="2.6" d="M158.2,212.0 C159.2,211.2 162.0,206.9 164.1,207.0 C166.2,207.1 168.1,212.0 170.6,212.7 C173.1,213.4 176.0,212.2 179.2,211.0 C182.4,209.8 186.1,208.4 189.6,205.8 C193.1,203.2 197.3,198.4 199.9,195.4 C202.5,192.4 203.0,190.4 205.0,188.0 C207.0,185.6 210.8,182.2 212.0,181.0"/>
<path stroke="#b8e0a0" stroke-width="3.5" d="M166.0,234.5 C166.5,234.3 167.8,234.5 168.9,233.4 C170.0,232.3 171.1,228.6 172.3,228.2 C173.5,227.8 174.8,229.9 176.0,231.0 C177.2,232.1 178.7,233.9 179.2,234.5"/><path stroke="#80c04e" stroke-width="2.6" d="M166.0,234.5 C166.5,234.3 167.8,234.5 168.9,233.4 C170.0,232.3 171.1,228.6 172.3,228.2 C173.5,227.8 174.8,229.9 176.0,231.0 C177.2,232.1 178.7,233.9 179.2,234.5"/>
<path stroke="#b8e0a0" stroke-width="3.5" d="M147.6,234.5 C148.2,233.8 149.8,231.2 151.0,230.0 C152.2,228.8 153.5,227.2 154.7,227.4 C155.9,227.6 157.0,229.8 158.0,231.0 C159.0,232.2 160.2,233.9 160.6,234.5"/><path stroke="#80c04e" stroke-width="2.6" d="M147.6,234.5 C148.2,233.8 149.8,231.2 151.0,230.0 C152.2,228.8 153.5,227.2 154.7,227.4 C155.9,227.6 157.0,229.8 158.0,231.0 C159.0,232.2 160.2,233.9 160.6,234.5"/>
<path stroke="#b8e0a0" stroke-width="3.5" d="M203.0,52.0 C203.3,51.4 203.9,49.6 205.0,48.3 C206.1,47.0 207.9,44.0 209.3,44.0 C210.8,44.0 212.5,46.8 213.7,48.3 C214.9,49.8 215.1,49.8 216.6,53.0 C218.1,56.2 220.9,64.8 222.4,67.4 C223.9,70.0 224.8,68.6 225.3,68.8"/><path stroke="#80c04e" stroke-width="2.6" d="M203.0,52.0 C203.3,51.4 203.9,49.6 205.0,48.3 C206.1,47.0 207.9,44.0 209.3,44.0 C210.8,44.0 212.5,46.8 213.7,48.3 C214.9,49.8 215.1,49.8 216.6,53.0 C218.1,56.2 220.9,64.8 222.4,67.4 C223.9,70.0 224.8,68.6 225.3,68.8"/>
<path stroke="#b8e0a0" stroke-width="3.5" d="M205.0,58.7 C206.0,58.7 208.4,57.5 210.8,58.7 C213.2,59.9 217.2,64.0 219.5,66.0 C221.8,68.0 223.8,70.2 224.6,71.0"/><path stroke="#80c04e" stroke-width="2.6" d="M205.0,58.7 C206.0,58.7 208.4,57.5 210.8,58.7 C213.2,59.9 217.2,64.0 219.5,66.0 C221.8,68.0 223.8,70.2 224.6,71.0"/>
<path stroke="#b8e0a0" stroke-width="3.5" d="M198.2,79.0 C199.4,78.3 202.9,74.4 205.5,74.6 C208.1,74.8 210.9,79.7 213.7,80.4 C216.5,81.1 220.5,79.5 222.4,79.0 C224.3,78.5 224.8,77.8 225.3,77.5"/><path stroke="#80c04e" stroke-width="2.6" d="M198.2,79.0 C199.4,78.3 202.9,74.4 205.5,74.6 C208.1,74.8 210.9,79.7 213.7,80.4 C216.5,81.1 220.5,79.5 222.4,79.0 C224.3,78.5 224.8,77.8 225.3,77.5"/>
<path stroke="#b8e0a0" stroke-width="3.5" d="M205.0,80.4 C206.4,81.1 211.3,84.2 213.7,84.8 C216.1,85.4 217.6,84.8 219.5,84.1 C221.4,83.4 224.3,81.0 225.3,80.4"/><path stroke="#80c04e" stroke-width="2.6" d="M205.0,80.4 C206.4,81.1 211.3,84.2 213.7,84.8 C216.1,85.4 217.6,84.8 219.5,84.1 C221.4,83.4 224.3,81.0 225.3,80.4"/>
<path stroke="#b8e0a0" stroke-width="3.5" d="M198.0,80.0 C199.2,80.8 202.9,82.7 205.0,85.0 C207.1,87.3 208.4,91.5 210.8,93.7 C213.2,95.9 217.2,97.4 219.5,98.0 C221.8,98.6 223.8,97.4 224.6,97.3"/><path stroke="#80c04e" stroke-width="2.6" d="M198.0,80.0 C199.2,80.8 202.9,82.7 205.0,85.0 C207.1,87.3 208.4,91.5 210.8,93.7 C213.2,95.9 217.2,97.4 219.5,98.0 C221.8,98.6 223.8,97.4 224.6,97.3"/>
<path stroke="#b8e0a0" stroke-width="3.5" d="M212.0,86.0 C213.0,86.5 216.0,89.0 218.0,89.0 C220.0,89.0 223.0,86.5 224.0,86.0"/><path stroke="#80c04e" stroke-width="2.6" d="M212.0,86.0 C213.0,86.5 216.0,89.0 218.0,89.0 C220.0,89.0 223.0,86.5 224.0,86.0"/>
<path stroke="#b8e0a0" stroke-width="3.5" d="M205.0,179.6 C206.2,178.0 209.8,173.3 212.0,170.0 C214.2,166.7 216.3,162.4 218.0,160.0 C219.7,157.6 220.7,156.0 222.4,155.7 C224.1,155.4 226.1,156.7 228.0,158.0 C229.9,159.3 231.1,160.8 234.0,163.7 C236.9,166.6 242.2,172.2 245.6,175.3 C249.0,178.4 251.2,180.3 254.3,182.5 C257.4,184.7 262.4,187.2 264.4,188.3 C266.4,189.4 266.1,188.9 266.4,189.0"/><path stroke="#80c04e" stroke-width="2.6" d="M205.0,179.6 C206.2,178.0 209.8,173.3 212.0,170.0 C214.2,166.7 216.3,162.4 218.0,160.0 C219.7,157.6 220.7,156.0 222.4,155.7 C224.1,155.4 226.1,156.7 228.0,158.0 C229.9,159.3 231.1,160.8 234.0,163.7 C236.9,166.6 242.2,172.2 245.6,175.3 C249.0,178.4 251.2,180.3 254.3,182.5 C257.4,184.7 262.4,187.2 264.4,188.3 C266.4,189.4 266.1,188.9 266.4,189.0"/>
<path stroke="#b8e0a0" stroke-width="3.5" d="M205.0,197.0 C205.5,196.2 206.6,194.8 207.9,192.0 C209.2,189.2 211.2,184.2 213.0,180.0 C214.8,175.8 217.2,170.2 219.0,167.0 C220.8,163.8 222.1,161.1 223.8,160.8 C225.5,160.5 227.1,163.3 229.0,165.0 C230.9,166.7 233.1,168.6 235.4,171.0 C237.7,173.4 240.5,177.4 242.7,179.6 C244.9,181.8 246.3,182.8 248.5,184.0 C250.7,185.2 253.3,186.0 256.0,187.0 C258.6,188.0 263.0,189.3 264.4,189.8"/><path stroke="#80c04e" stroke-width="2.6" d="M205.0,197.0 C205.5,196.2 206.6,194.8 207.9,192.0 C209.2,189.2 211.2,184.2 213.0,180.0 C214.8,175.8 217.2,170.2 219.0,167.0 C220.8,163.8 222.1,161.1 223.8,160.8 C225.5,160.5 227.1,163.3 229.0,165.0 C230.9,166.7 233.1,168.6 235.4,171.0 C237.7,173.4 240.5,177.4 242.7,179.6 C244.9,181.8 246.3,182.8 248.5,184.0 C250.7,185.2 253.3,186.0 256.0,187.0 C258.6,188.0 263.0,189.3 264.4,189.8"/>
<path stroke="#b8e0a0" stroke-width="3.5" d="M210.0,205.0 C211.1,202.8 214.9,195.5 216.6,192.0 C218.3,188.5 218.8,186.1 220.0,184.0 C221.2,181.9 222.6,179.8 223.8,179.6 C225.1,179.4 226.3,181.6 227.5,183.0 C228.7,184.4 230.0,186.8 231.1,188.3 C232.2,189.8 232.5,189.6 234.0,192.0 C235.5,194.4 239.0,201.2 240.0,203.0"/><path stroke="#80c04e" stroke-width="2.6" d="M210.0,205.0 C211.1,202.8 214.9,195.5 216.6,192.0 C218.3,188.5 218.8,186.1 220.0,184.0 C221.2,181.9 222.6,179.8 223.8,179.6 C225.1,179.4 226.3,181.6 227.5,183.0 C228.7,184.4 230.0,186.8 231.1,188.3 C232.2,189.8 232.5,189.6 234.0,192.0 C235.5,194.4 239.0,201.2 240.0,203.0"/>
<path stroke="#b8e0a0" stroke-width="3.5" d="M242.0,183.0 C242.8,184.2 244.6,187.0 246.5,190.0 C248.4,193.0 251.0,198.1 253.7,200.8 C256.4,203.5 260.7,205.3 262.8,206.2 C264.9,207.1 265.8,206.2 266.4,206.2"/><path stroke="#80c04e" stroke-width="2.6" d="M242.0,183.0 C242.8,184.2 244.6,187.0 246.5,190.0 C248.4,193.0 251.0,198.1 253.7,200.8 C256.4,203.5 260.7,205.3 262.8,206.2 C264.9,207.1 265.8,206.2 266.4,206.2"/>
<path stroke="#b8e0a0" stroke-width="3.5" d="M205.0,213.5 C205.5,212.1 206.8,207.9 208.0,205.0 C209.2,202.1 211.3,197.5 212.0,196.0"/><path stroke="#80c04e" stroke-width="2.6" d="M205.0,213.5 C205.5,212.1 206.8,207.9 208.0,205.0 C209.2,202.1 211.3,197.5 212.0,196.0"/>
<path stroke="#b8e0a0" stroke-width="3.5" d="M205.0,224.0 C205.3,224.8 206.4,227.4 207.0,229.0 C207.6,230.6 208.3,232.6 208.6,233.3"/><path stroke="#80c04e" stroke-width="2.6" d="M205.0,224.0 C205.3,224.8 206.4,227.4 207.0,229.0 C207.6,230.6 208.3,232.6 208.6,233.3"/>
<path stroke="#b8e0a0" stroke-width="3.5" d="M205.0,200.8 C205.7,199.8 207.5,196.8 209.0,195.0 C210.5,193.2 213.2,190.8 214.0,190.0"/><path stroke="#80c04e" stroke-width="2.6" d="M205.0,200.8 C205.7,199.8 207.5,196.8 209.0,195.0 C210.5,193.2 213.2,190.8 214.0,190.0"/>
 </g>
 <rect x="33.4" y="17.1" width="233" height="217.4" fill="none" stroke="#000" stroke-width="1.3"/>
 <g stroke="#000" stroke-width="1.2">
  <line x1="33.4" y1="27.9" x2="37.6" y2="27.9"/>
  <line x1="33.4" y1="60.5" x2="37.6" y2="60.5"/>
  <line x1="33.4" y1="93.1" x2="37.6" y2="93.1"/>
  <line x1="33.4" y1="125.8" x2="37.6" y2="125.8"/>
  <line x1="33.4" y1="158.4" x2="37.6" y2="158.4"/>
  <line x1="33.4" y1="191" x2="37.6" y2="191"/>
  <line x1="33.4" y1="223.6" x2="37.6" y2="223.6"/>
  <line x1="33.4" y1="44.2" x2="35.8" y2="44.2"/>
  <line x1="33.4" y1="76.8" x2="35.8" y2="76.8"/>
  <line x1="33.4" y1="109.5" x2="35.8" y2="109.5"/>
  <line x1="33.4" y1="142.1" x2="35.8" y2="142.1"/>
  <line x1="33.4" y1="174.7" x2="35.8" y2="174.7"/>
  <line x1="33.4" y1="207.3" x2="35.8" y2="207.3"/>
 </g>
 <g class="ser" font-size="14.5" text-anchor="end">
  <text x="29" y="32.9">9</text>
  <text x="29" y="65.5">6</text>
  <text x="29" y="98.1">3</text>
  <text x="29" y="130.8">0</text>
  <text x="29" y="163.4">-3</text>
  <text x="29" y="196">-6</text>
  <text x="29" y="228.6">-9</text>
 </g>
 <text class="ser" font-size="14" transform="translate(12.7,122.2) rotate(-90)" text-anchor="middle">Energy (eV)</text>
 <g class="ser" font-size="14" text-anchor="middle">
  <text x="33" y="248">G</text>
  <text x="67" y="248">T</text>
  <text x="128.8" y="248">L</text>
  <text x="164" y="248">G</text>
  <text x="266.4" y="248">G</text>
 </g>
 <text class="ser" font-size="13" x="83.4" y="248">H<tspan font-size="9" dy="3">2</tspan><tspan dy="-3">|H</tspan><tspan font-size="9" dy="3">0</tspan></text>
 <text class="ser" font-size="13" x="193.6" y="248">S<tspan font-size="9" dy="3">0</tspan><tspan dy="-3">|S</tspan><tspan font-size="9" dy="3">2</tspan></text>
 <text class="ser" font-size="13.5" x="225.5" y="248" text-anchor="middle">F</text>
 <text class="ser" font-size="13.5" x="246.5" y="120.3" font-style="italic">E<tspan font-size="8.5" font-style="normal" dy="3">F</tspan></text>
 <!-- legend -->
 <rect x="185" y="18" width="75" height="11.5" fill="#fff"/>
 <text class="ser" font-size="11.5" x="188" y="28.5">Mg</text>
 <circle cx="211.2" cy="24.9" r="4.5" fill="#8a1cf5"/>
 <text class="ser" font-size="11.5" x="218.3" y="28.5">P</text>
 <circle cx="232.1" cy="24.9" r="4.5" fill="#f39a3a"/>
 <text class="ser" font-size="11.5" x="238" y="28.5">H</text>
 <circle cx="252.4" cy="24.9" r="4.5" fill="#8cc98c"/>
</g>

<!-- ===== PDOS ===== -->
<g id="pdos">
 <line x1="272.3" y1="126" x2="403.6" y2="126" stroke="#888" stroke-width="0.9" stroke-dasharray="1.6,1.6"/>
 <g id="pdoscurves" fill="none" stroke-width="1.5" stroke-linejoin="round" clip-path="url(#clipP)">
<path stroke="#8a1cf5" d="M294.4,17.4 L293.4,19.8 L293.5,22.1 L292.9,24.4 L292.0,26.8 L291.2,29.2 L290.8,31.5 L290.1,33.9 L289.6,36.2 L288.0,38.5 L286.1,40.9 L286.0,43.3 L285.0,45.6 L285.0,48.0 L285.1,50.3 L286.4,52.7 L286.6,55.0 L286.8,57.3 L287.3,59.7 L287.3,62.0 L287.0,64.3 L287.7,66.7 L288.0,69.0 L288.5,72.0 L289.1,74.3 L289.0,76.7 L289.6,79.0 L289.3,81.4 L288.5,83.7 L287.3,86.1 L286.8,89.0 L287.3,92.0 L285.7,94.0 L285.0,95.9 L283.8,97.9 L282.7,99.5 L280.5,101.0 L279.1,102.6 L277.0,104.9 L275.5,107.3 L275.1,109.3 L274.3,111.2 L274.4,113.2 L274.5,115.2 L275.1,117.1 L275.5,119.1 L275.9,121.4 L276.0,123.8 L276.7,126.1 L276.7,129.1 L277.2,132.0 L277.9,135.0 L278.4,137.4 L279.4,139.7 L280.2,142.1 L280.6,144.4 L280.9,146.8 L282.3,149.2 L282.6,151.5 L282.7,153.9 L282.7,156.2 L282.3,158.6 L282.6,161.0 L283.4,163.3 L283.6,165.7 L283.1,168.1 L283.8,170.4 L283.5,172.8 L283.8,175.1 L283.6,177.5 L283.3,179.8 L284.1,180.0 L284.3,182.2 L283.6,184.4 L283.8,186.6 L283.4,188.8 L283.0,191.0 L282.6,193.2 L282.6,195.4 L282.7,197.6 L282.5,199.8 L281.9,202.0 L281.9,204.2 L282.0,206.4 L281.4,208.6 L281.6,210.8 L281.9,213.0 L282.1,215.2 L281.5,217.4 L281.2,219.6 L281.4,221.8 L281.2,224.0 L281.3,226.0 L281.2,228.0 L280.8,230.0 L280.8,232.0 L280.8,234.0"/>
<path stroke="#ff8a18" d="M312.0,17.4 L312.5,19.7 L312.1,22.1 L310.8,24.4 L310.3,26.2 L310.6,27.9 L312.3,29.7 L312.0,31.5 L312.0,33.2 L311.4,35.0 L310.2,36.8 L310.1,38.5 L310.1,40.5 L310.0,42.4 L309.6,44.4 L311.6,46.2 L313.2,48.0 L313.2,50.3 L314.4,52.6 L316.7,55.0 L317.7,56.6 L318.8,58.1 L320.2,59.7 L321.4,62.0 L319.5,63.2 L316.7,64.4 L315.3,65.0 L312.0,65.6 L313.5,67.9 L313.2,70.3 L313.2,72.0 L313.9,74.3 L314.4,76.7 L314.7,78.7 L314.7,80.6 L315.5,82.6 L316.2,83.8 L317.7,84.9 L320.2,86.1 L321.3,87.6 L322.3,89.0 L323.6,90.5 L325.0,92.0 L324.5,93.8 L322.6,95.5 L320.6,96.4 L318.6,97.3 L315.9,98.2 L314.4,99.1 L311.6,99.8 L310.3,100.5 L308.1,101.2 L306.9,101.9 L305.0,102.6 L304.2,103.5 L301.8,104.3 L299.1,105.2 L297.9,106.1 L297.4,108.4 L295.5,110.8 L297.9,113.2 L300.8,114.3 L302.6,115.5 L303.6,117.8 L303.8,120.2 L306.3,122.0 L307.3,123.8 L306.6,125.5 L305.0,127.3 L304.9,128.0 L304.3,129.6 L302.3,131.1 L301.4,132.7 L301.7,134.5 L301.1,136.2 L299.0,138.0 L299.1,139.8 L300.5,141.6 L301.3,143.3 L301.7,145.1 L302.6,146.8 L304.4,148.0 L306.1,149.2 L308.7,150.3 L309.6,151.5 L310.4,153.5 L311.8,155.4 L312.0,157.4 L313.5,159.2 L315.5,161.0 L316.8,162.8 L317.5,164.5 L317.2,166.2 L317.9,168.0 L316.4,168.7 L315.4,169.4 L313.3,170.1 L311.2,170.8 L309.6,171.5 L308.7,173.5 L308.5,175.4 L308.5,177.4 L307.2,180.0 L308.7,181.7 L309.4,183.3 L311.6,184.4 L309.9,186.6 L309.4,188.8 L311.3,191.0 L311.6,193.2 L313.0,193.9 L316.0,194.7 L317.0,195.4 L315.2,196.9 L315.0,198.3 L312.7,199.8 L313.1,202.0 L312.7,204.2 L311.6,206.4 L310.5,208.6 L310.9,210.4 L311.5,212.3 L311.6,214.1 L311.0,215.9 L309.8,217.8 L309.4,219.6 L309.4,221.8 L310.5,224.0 L310.0,226.2 L309.4,228.4 L309.9,230.3 L308.9,232.1 L308.3,234.0"/>
<path stroke="#5aae52" d="M352.0,17.4 L350.6,19.1 L350.9,20.9 L349.8,22.6 L349.6,24.4 L351.1,26.0 L352.4,27.5 L353.2,29.1 L350.7,31.4 L350.8,33.8 L349.9,36.1 L352.0,38.5 L351.4,40.1 L348.1,41.6 L347.3,43.2 L345.3,44.8 L346.5,46.4 L343.8,48.0 L345.2,49.1 L347.7,50.3 L348.1,51.5 L349.6,52.6 L348.9,54.4 L347.3,56.2 L348.3,56.8 L351.8,57.4 L354.6,57.9 L355.5,58.5 L357.1,59.7 L359.4,60.8 L360.2,62.0 L358.8,63.2 L355.0,64.4 L354.4,65.6 L352.0,68.0 L354.5,69.8 L355.5,71.5 L356.7,72.0 L358.1,73.6 L358.4,75.1 L360.2,76.7 L358.2,79.1 L359.1,81.4 L361.3,83.8 L361.4,86.1 L361.3,88.1 L362.1,90.0 L361.4,92.0 L360.7,92.5 L358.3,93.0 L357.0,93.4 L353.6,93.9 L352.0,94.4 L350.9,95.0 L347.9,95.6 L347.4,96.2 L345.3,96.7 L341.0,97.3 L340.2,97.9 L337.3,98.3 L335.7,98.7 L336.1,99.1 L332.7,99.5 L331.5,99.8 L328.7,100.2 L327.5,100.6 L325.3,101.0 L323.8,101.4 L321.6,101.7 L320.5,102.0 L318.7,102.3 L317.9,102.6 L315.5,102.9 L314.4,103.2 L312.4,103.5 L309.6,103.8 L309.3,104.7 L306.6,105.5 L303.3,106.4 L302.6,107.3 L302.5,109.7 L300.2,112.0 L303.4,112.6 L305.0,113.2 L305.7,113.8 L307.3,114.4 L309.1,116.8 L309.6,119.1 L310.6,119.6 L314.4,120.0 L315.5,120.5 L316.6,120.9 L319.1,121.4 L319.8,122.0 L324.3,122.6 L326.7,123.2 L327.3,123.8 L324.3,125.5 L323.8,127.3 L323.5,129.7 L321.4,132.0 L320.2,130.4 L321.7,132.2 L323.8,133.9 L324.6,134.6 L326.9,135.3 L330.2,136.0 L332.4,136.7 L333.2,137.4 L333.5,138.4 L336.5,139.3 L338.6,139.8 L338.7,140.4 L342.5,140.9 L343.1,141.4 L346.6,142.0 L347.2,142.5 L350.4,142.9 L350.8,143.2 L354.1,143.6 L353.8,144.0 L354.9,144.3 L358.0,144.7 L360.1,145.1 L360.2,145.4 L362.5,145.8 L364.9,146.2 L367.3,146.5 L368.8,146.9 L369.9,148.5 L373.1,150.1 L373.6,150.6 L378.0,151.1 L378.2,151.7 L380.6,152.2 L380.2,153.7 L378.3,155.1 L375.3,156.6 L374.2,158.7 L375.7,159.2 L377.8,159.8 L379.9,160.3 L381.7,160.9 L383.8,162.5 L385.0,164.1 L385.0,167.3 L383.4,167.9 L381.4,168.4 L379.7,168.9 L377.4,169.5 L376.8,169.8 L373.7,170.1 L371.6,170.3 L369.9,170.6 L368.8,171.3 L365.5,172.0 L364.5,172.7 L365.6,175.9 L362.8,177.0 L361.2,178.1 L360.5,179.7 L356.9,181.3 L358.8,181.7 L360.6,182.0 L362.3,182.4 L363.0,183.1 L366.4,183.7 L368.8,184.4 L367.3,184.8 L363.8,185.3 L363.8,185.7 L362.1,186.2 L359.9,186.6 L356.9,187.4 L357.0,188.2 L354.8,189.1 L353.3,189.9 L355.3,191.0 L355.8,192.1 L357.7,193.2 L359.9,195.4 L358.3,196.1 L356.2,196.9 L353.3,197.6 L350.8,199.1 L349.8,200.5 L350.0,202.0 L351.6,203.7 L352.2,205.3 L352.5,206.9 L350.0,208.6 L348.7,210.8 L348.9,213.0 L347.7,215.2 L346.7,217.4 L345.5,218.9 L343.2,220.3 L342.3,221.8 L343.0,224.0 L344.5,226.2 L342.3,228.4 L343.2,229.5 L344.8,230.5 L346.7,231.6 L345.6,234.0"/>
</g>
 <rect x="272.3" y="17.3" width="131.3" height="217.2" fill="none" stroke="#000" stroke-width="1.3"/>
 <g stroke="#000" stroke-width="1.2">
  <line x1="272.3" y1="27.9" x2="276.6" y2="27.9"/>
  <line x1="272.3" y1="60.5" x2="276.6" y2="60.5"/>
  <line x1="272.3" y1="93.1" x2="276.6" y2="93.1"/>
  <line x1="272.3" y1="125.8" x2="276.6" y2="125.8"/>
  <line x1="272.3" y1="158.4" x2="276.6" y2="158.4"/>
  <line x1="272.3" y1="191" x2="276.6" y2="191"/>
  <line x1="272.3" y1="223.6" x2="276.6" y2="223.6"/>
  <line x1="272.3" y1="44.2" x2="274.8" y2="44.2"/>
  <line x1="272.3" y1="76.8" x2="274.8" y2="76.8"/>
  <line x1="272.3" y1="109.5" x2="274.8" y2="109.5"/>
  <line x1="272.3" y1="142.1" x2="274.8" y2="142.1"/>
  <line x1="272.3" y1="174.7" x2="274.8" y2="174.7"/>
  <line x1="272.3" y1="207.3" x2="274.8" y2="207.3"/>
  <line x1="301.5" y1="234.5" x2="301.5" y2="230.5"/>
  <line x1="330.7" y1="234.5" x2="330.7" y2="230.5"/>
  <line x1="359.8" y1="234.5" x2="359.8" y2="230.5"/>
  <line x1="389" y1="234.5" x2="389" y2="230.5"/>
  <line x1="286.9" y1="234.5" x2="286.9" y2="232.3"/>
  <line x1="316.1" y1="234.5" x2="316.1" y2="232.3"/>
  <line x1="345.3" y1="234.5" x2="345.3" y2="232.3"/>
  <line x1="374.4" y1="234.5" x2="374.4" y2="232.3"/>
 </g>
 <g class="ser" font-size="14" text-anchor="middle">
  <text x="301.2" y="251.7">0.2</text>
  <text x="330.4" y="251.7">0.4</text>
  <text x="359.6" y="251.7">0.6</text>
  <text x="388.8" y="251.7">0.8</text>
 </g>
 <text class="ser" font-size="12.1" x="296.6" y="11.6">PDOS (States/eV)</text>
 <line x1="349" y1="103.7" x2="377" y2="103.7" stroke="#8a1cf5" stroke-width="1.6"/>
 <line x1="349" y1="120.1" x2="377" y2="120.1" stroke="#ff8c1a" stroke-width="1.6"/>
 <line x1="349" y1="137.1" x2="377" y2="137.1" stroke="#5cb25c" stroke-width="1.6"/>
 <text class="ser" font-size="12.5" x="383" y="108.8">Mg</text>
 <text class="ser" font-size="12.5" x="383" y="124.5">P</text>
 <text class="ser" font-size="12.5" x="383" y="141.3">H</text>
</g>

<!-- ===== Colorbar ===== -->
<text class="ser" font-size="15" x="536" y="20">ELF</text>
<rect x="543.2" y="29.9" width="10.6" height="163.3" fill="url(#cbar)" stroke="#9a9a9a" stroke-width="0.5"/>
<g stroke="#6a6a6a" stroke-width="0.8">
 <line x1="553.8" y1="29.9" x2="557.3" y2="29.9"/>
 <line x1="553.8" y1="46.2" x2="557.3" y2="46.2"/>
 <line x1="553.8" y1="62.6" x2="557.3" y2="62.6"/>
 <line x1="553.8" y1="78.9" x2="557.3" y2="78.9"/>
 <line x1="553.8" y1="95.2" x2="557.3" y2="95.2"/>
 <line x1="553.8" y1="111.6" x2="557.3" y2="111.6"/>
 <line x1="553.8" y1="127.9" x2="557.3" y2="127.9"/>
 <line x1="553.8" y1="144.2" x2="557.3" y2="144.2"/>
 <line x1="553.8" y1="160.5" x2="557.3" y2="160.5"/>
 <line x1="553.8" y1="176.9" x2="557.3" y2="176.9"/>
 <line x1="553.8" y1="193.2" x2="557.3" y2="193.2"/>
</g>
<text class="ser" font-size="14.5" x="561.5" y="37">1</text>
<text class="ser" font-size="14.5" x="561.5" y="198.8">0</text>

<!-- ===== Panel B ===== -->
<g id="panelB">
 <defs>
  <radialGradient id="yb" cx="0.45" cy="0.42" r="0.6">
   <stop offset="0" stop-color="#f2f2a8"/>
   <stop offset="0.55" stop-color="#eaea80"/>
   <stop offset="0.85" stop-color="#d8d850"/>
   <stop offset="1" stop-color="#c4c430"/>
  </radialGradient>
  <radialGradient id="hsphB" cx="0.4" cy="0.38" r="0.65">
   <stop offset="0" stop-color="#ffffff"/>
   <stop offset="0.4" stop-color="#f0dcdc"/>
   <stop offset="1" stop-color="#b89898"/>
  </radialGradient>
  <radialGradient id="hpaleB" cx="0.4" cy="0.38" r="0.65">
   <stop offset="0" stop-color="#fafae0"/>
   <stop offset="0.5" stop-color="#eedca8"/>
   <stop offset="1" stop-color="#ccbb80"/>
  </radialGradient>
 </defs>
 <g fill="none" stroke="#555" stroke-width="0.6">
  <polyline points="441.9,44 443.5,14.4 521.3,70.6 525.2,239.4 446.2,183.5 441.9,44"/>
  <line x1="443.5" y1="14.4" x2="449" y2="180"/>
 </g>
 <polygon points="441,48 445,42 456,46 466,41 476,38 488,43 495,50 494,58 500,62 512,66 518,72 522,82 527,88 527,100 524,108 526,130 527,170 529,200 530,222 520,228 505,218 494,212 484,204 477,192 474,182 466,177 452,176 446,172 443,150 441,100" fill="#e6e670" stroke="#c4c430" stroke-width="0.8"/>
 <g fill="url(#yb)" stroke="#c8c83c" stroke-width="0.7" opacity="0.85">
  <ellipse cx="456" cy="50" rx="9" ry="6"/>
  <ellipse cx="448" cy="64" rx="7" ry="13"/>
  <ellipse cx="463" cy="63" rx="9" ry="10"/>
  <ellipse cx="482" cy="53" rx="10" ry="12"/>
  <ellipse cx="503" cy="74" rx="10" ry="10"/>
  <ellipse cx="520" cy="92" rx="6" ry="11"/>
  <ellipse cx="449" cy="95" rx="8" ry="14"/>
  <ellipse cx="467" cy="92" rx="12" ry="10"/>
  <ellipse cx="496" cy="93" rx="13" ry="11"/>
  <ellipse cx="516" cy="104" rx="8" ry="12"/>
  <ellipse cx="455" cy="124" rx="12" ry="15"/>
  <ellipse cx="484" cy="127" rx="17" ry="16"/>
  <ellipse cx="512" cy="128" rx="12" ry="15"/>
  <ellipse cx="450" cy="158" rx="7" ry="15"/>
  <ellipse cx="470" cy="150" rx="12" ry="12"/>
  <ellipse cx="498" cy="150" rx="14" ry="14"/>
  <ellipse cx="519" cy="156" rx="7" ry="15"/>
  <ellipse cx="463" cy="168" rx="12" ry="7"/>
  <ellipse cx="489" cy="170" rx="11" ry="8"/>
  <ellipse cx="503" cy="184" rx="11" ry="10"/>
  <ellipse cx="490" cy="198" rx="11" ry="10"/>
  <ellipse cx="512" cy="210" rx="12" ry="10"/>
  <ellipse cx="521" cy="186" rx="8" ry="14"/>
  <ellipse cx="508" cy="168" rx="9" ry="7"/>
 </g>
 <g fill="#d2d23a" opacity="0.45">
  <ellipse cx="452" cy="64" rx="6" ry="10"/>
  <ellipse cx="462" cy="102" rx="8" ry="6"/>
  <ellipse cx="507" cy="104" rx="6" ry="9"/>
  <ellipse cx="478" cy="150" rx="8" ry="7"/>
  <ellipse cx="517" cy="150" rx="5" ry="9"/>
  <ellipse cx="500" cy="203" rx="8" ry="6"/>
  <ellipse cx="447" cy="135" rx="4" ry="12"/>
  <ellipse cx="486" cy="56" rx="5" ry="8"/>
 </g>
 <g fill="#fff" stroke="#cfcf48" stroke-width="0.7">
  <ellipse cx="482" cy="72" rx="6" ry="5.5"/>
  <ellipse cx="486" cy="180" rx="5" ry="3.5"/>
  <ellipse cx="512" cy="68" rx="4" ry="3"/>
 </g>
 <g fill="none" stroke="#555" stroke-width="0.5" opacity="0.6">
  <line x1="446.2" y1="100" x2="525" y2="160"/>
 </g>
 <g stroke-width="3.2">
  <line x1="452.4" y1="36.4" x2="460.2" y2="21.9" stroke="#7cc49a"/>
  <line x1="460.2" y1="21.9" x2="468" y2="7.5" stroke="#e6c0c0"/>
  <line x1="452.4" y1="36.4" x2="433.6" y2="32.9" stroke="#7cc49a"/>
  <line x1="433.6" y1="32.9" x2="414.9" y2="29.4" stroke="#e6c0c0"/>
  <line x1="452.4" y1="36.4" x2="445.7" y2="33.2" stroke="#7cc49a"/>
  <line x1="445.7" y1="33.2" x2="439" y2="30" stroke="#e6c0c0"/>
  <line x1="452.4" y1="36.4" x2="454.0" y2="31.7" stroke="#7cc49a"/>
  <line x1="454.0" y1="31.7" x2="455.6" y2="27" stroke="#e6c0c0"/>
  <line x1="452.4" y1="36.4" x2="469.9" y2="31.4" stroke="#7cc49a"/>
  <line x1="469.9" y1="31.4" x2="487.4" y2="26.4" stroke="#e6c0c0"/>
  <line x1="452.4" y1="36.4" x2="440.4" y2="44.1" stroke="#7cc49a"/>
  <line x1="440.4" y1="44.1" x2="428.5" y2="51.8" stroke="#e6c0c0"/>
  <line x1="452.4" y1="36.4" x2="465.2" y2="46.5" stroke="#7cc49a"/>
  <line x1="465.2" y1="46.5" x2="478" y2="56.5" stroke="#e6c0c0"/>
  <line x1="516.2" y1="217" x2="503.2" y2="206.8" stroke="#7cc49a"/>
  <line x1="503.2" y1="206.8" x2="490.3" y2="196.6" stroke="#e6c0c0"/>
  <line x1="516.2" y1="217" x2="528.2" y2="208.8" stroke="#7cc49a"/>
  <line x1="528.2" y1="208.8" x2="540.2" y2="200.6" stroke="#e6c0c0"/>
  <line x1="516.2" y1="217" x2="498.3" y2="221.8" stroke="#7cc49a"/>
  <line x1="498.3" y1="221.8" x2="480.4" y2="226.5" stroke="#e6c0c0"/>
  <line x1="516.2" y1="217" x2="522.3" y2="220.0" stroke="#7cc49a"/>
  <line x1="522.3" y1="220.0" x2="528.4" y2="223" stroke="#e6c0c0"/>
  <line x1="516.2" y1="217" x2="534.1" y2="220.2" stroke="#7cc49a"/>
  <line x1="534.1" y1="220.2" x2="552" y2="223.4" stroke="#e6c0c0"/>
  <line x1="516.2" y1="217" x2="508.0" y2="231.5" stroke="#7cc49a"/>
  <line x1="508.0" y1="231.5" x2="499.7" y2="246" stroke="#e6c0c0"/>
  <line x1="516.2" y1="217" x2="514.4" y2="221.8" stroke="#7cc49a"/>
  <line x1="514.4" y1="221.8" x2="512.6" y2="226.5" stroke="#e6c0c0"/>
 </g>
 <g stroke-width="3" stroke-linecap="round">
  <line x1="486.9" y1="115.0" x2="489" y2="105" stroke="#f0c070"/>
  <line x1="496.7" y1="117.4" x2="506.8" y2="109.4" stroke="#f0c070"/>
  <line x1="468.2" y1="127.1" x2="455" y2="127" stroke="#f0c070"/>
  <line x1="501.2" y1="127.1" x2="515" y2="127" stroke="#f0c070"/>
  <line x1="481.2" y1="138.1" x2="478.5" y2="147" stroke="#f0c070"/>
  <line x1="484.4" y1="141.4" x2="484.4" y2="153" stroke="#f0c070"/>
  <line x1="488.9" y1="138.1" x2="492.6" y2="147" stroke="#f0c070"/>
  <line x1="496.1" y1="136.2" x2="505.6" y2="143.5" stroke="#f0c070"/>
  <line x1="473.4" y1="118.7" x2="464.4" y2="111.8" stroke="#f0c070"/>
  <line x1="484.4" y1="127.2" x2="486.9" y2="115.0" stroke="#e8802a"/>
  <line x1="484.4" y1="127.2" x2="496.7" y2="117.4" stroke="#e8802a"/>
  <line x1="484.4" y1="127.2" x2="468.2" y2="127.1" stroke="#e8802a"/>
  <line x1="484.4" y1="127.2" x2="501.2" y2="127.1" stroke="#e8802a"/>
  <line x1="484.4" y1="127.2" x2="481.2" y2="138.1" stroke="#e8802a"/>
  <line x1="484.4" y1="127.2" x2="484.4" y2="141.4" stroke="#e8802a"/>
  <line x1="484.4" y1="127.2" x2="488.9" y2="138.1" stroke="#e8802a"/>
  <line x1="484.4" y1="127.2" x2="496.1" y2="136.2" stroke="#e8802a"/>
  <line x1="484.4" y1="127.2" x2="473.4" y2="118.7" stroke="#e8802a"/>
 </g>
 <circle cx="484.4" cy="127.2" r="10" fill="#f0a040" opacity="0.35"/>
 <g stroke="#e8d0c0" stroke-width="1.6" opacity="0.8">
  <line x1="465.5" y1="70.7" x2="474.4" y2="104"/><line x1="442.6" y1="70.7" x2="445" y2="90"/>
  <line x1="484.3" y1="152.5" x2="474.4" y2="167"/>
 </g>
 <g fill="url(#hpaleB)">
  <circle cx="478" cy="56.5" r="4"/> <circle cx="470.2" cy="87.6" r="4"/> <circle cx="493.2" cy="86.5" r="4"/> <circle cx="452.8" cy="100.6" r="4"/> <circle cx="515.6" cy="150.9" r="4"/> <circle cx="497.5" cy="164.2" r="4"/> <circle cx="502.2" cy="183" r="4"/> <circle cx="523.8" cy="183.5" r="4"/> <circle cx="458" cy="145" r="4"/>
 </g>
 <g fill="url(#hsphB)">
  <circle cx="442.6" cy="70.7" r="4.2"/> <circle cx="465.5" cy="70.7" r="4.2"/> <circle cx="474.4" cy="104" r="4.2"/> <circle cx="506.2" cy="107.8" r="4.2"/> <circle cx="446.2" cy="126.6" r="4.2"/> <circle cx="522" cy="126.6" r="4.2"/> <circle cx="484.3" cy="152.5" r="4.2"/> <circle cx="474.4" cy="167" r="4.2"/> <circle cx="490.4" cy="196.5" r="4.2"/>
  <circle cx="468" cy="7.5" r="4.5"/> <circle cx="414.9" cy="29.4" r="4.5"/> <circle cx="439" cy="30" r="4.5"/> <circle cx="455.6" cy="27" r="4.5"/> <circle cx="487.4" cy="26.4" r="4.5"/> <circle cx="428.5" cy="51.8" r="4.5"/>
  <circle cx="490.3" cy="196.6" r="4.5"/> <circle cx="540.2" cy="200.6" r="4.5"/> <circle cx="480.4" cy="226.5" r="4.5"/> <circle cx="528.4" cy="223" r="4.5"/> <circle cx="552" cy="223.4" r="4.5"/> <circle cx="499.7" cy="246" r="4.5"/> <circle cx="512.6" cy="226.5" r="4.5"/>
 </g>
 <circle cx="452.4" cy="36.4" r="6.8" fill="url(#mgsph)"/>
 <circle cx="516.2" cy="217" r="6.8" fill="url(#mgsph)"/>
 <circle cx="484.4" cy="127.2" r="6.3" fill="url(#psph)"/>
</g>
<!-- ===== Panel C ===== -->
<g id="panelC">
 <defs>
  <clipPath id="clipC"><polygon points="567,59 627,5 739.3,5 739.3,88.5 690,132.6 567,132.6"/></clipPath>
  <radialGradient id="hr">
   <stop offset="0" stop-color="#f05030"/>
   <stop offset="0.3" stop-color="#f46838"/>
   <stop offset="0.4" stop-color="#f89a38"/>
   <stop offset="0.5" stop-color="#f8c834"/>
   <stop offset="0.59" stop-color="#dce830"/>
   <stop offset="0.68" stop-color="#98e050"/>
   <stop offset="0.78" stop-color="#50dc90" stop-opacity="0.85"/>
   <stop offset="0.89" stop-color="#40d4c8" stop-opacity="0.4"/>
   <stop offset="1" stop-color="#40d0e8" stop-opacity="0"/>
  </radialGradient>
  <radialGradient id="hy">
   <stop offset="0" stop-color="#ffb020"/>
   <stop offset="0.35" stop-color="#f0e020"/>
   <stop offset="0.6" stop-color="#90e850"/>
   <stop offset="0.8" stop-color="#50dca0" stop-opacity="0.6"/>
   <stop offset="1" stop-color="#40d0e0" stop-opacity="0"/>
  </radialGradient>
  <radialGradient id="bl">
   <stop offset="0" stop-color="#2a2ae0"/>
   <stop offset="0.5" stop-color="#3444e8"/>
   <stop offset="0.72" stop-color="#4478f0" stop-opacity="0.85"/>
   <stop offset="0.88" stop-color="#4ca4f0" stop-opacity="0.45"/>
   <stop offset="1" stop-color="#50b8f0" stop-opacity="0"/>
  </radialGradient>
  <radialGradient id="hsph" cx="0.4" cy="0.38" r="0.65">
   <stop offset="0" stop-color="#ffffff"/>
   <stop offset="0.35" stop-color="#f3e4e4"/>
   <stop offset="0.8" stop-color="#d6b4b4"/>
   <stop offset="1" stop-color="#a98888"/>
  </radialGradient>
  <radialGradient id="psph" cx="0.4" cy="0.38" r="0.65">
   <stop offset="0" stop-color="#ffd090"/>
   <stop offset="0.4" stop-color="#f08020"/>
   <stop offset="1" stop-color="#b05010"/>
  </radialGradient>
  <radialGradient id="mgsph" cx="0.4" cy="0.38" r="0.65">
   <stop offset="0" stop-color="#f0fff4"/>
   <stop offset="0.4" stop-color="#a8d4b4"/>
   <stop offset="0.85" stop-color="#78aa88"/>
   <stop offset="1" stop-color="#527a5e"/>
  </radialGradient>
  <linearGradient id="bondO" x1="0" y1="0" x2="0" y2="1">
   <stop offset="0" stop-color="#f8b060"/><stop offset="0.35" stop-color="#ee8420"/><stop offset="1" stop-color="#c06010"/>
  </linearGradient>
 </defs>
 <g clip-path="url(#clipC)">
  <rect x="560" y="0" width="185" height="140" fill="#4ed4ee"/>
  <ellipse cx="640" cy="20" rx="30" ry="22" fill="#58e0e6" opacity="0.8"/>
  <ellipse cx="575" cy="112" rx="24" ry="28" fill="url(#hy)" opacity="0.55"/>
  <ellipse cx="566" cy="72" rx="14" ry="18" fill="url(#hy)" opacity="0.6"/>
  <ellipse cx="600" cy="142" rx="22" ry="16" fill="url(#hy)" opacity="0.9"/>
  <ellipse cx="712" cy="0" rx="26" ry="15" fill="url(#hy)" opacity="0.95"/>
  <ellipse cx="620" cy="30" rx="18" ry="16" fill="url(#hy)" opacity="0.55"/>
  <ellipse cx="740" cy="116" rx="24" ry="24" fill="url(#hy)" opacity="0.7"/>
  <ellipse cx="725" cy="68" rx="14" ry="24" fill="url(#hy)" opacity="0.8"/>
  <ellipse cx="612" cy="72" rx="14" ry="18" fill="url(#hy)" opacity="0.45"/>
  <ellipse cx="700" cy="128" rx="18" ry="12" fill="url(#hy)" opacity="0.5"/>
  <rect x="628" y="38" width="64" height="60" rx="26" fill="url(#bl)"/>
  <circle cx="661" cy="68" r="38" fill="url(#bl)"/>
  <ellipse cx="660" cy="100" rx="9" ry="18" fill="#2a40e8" opacity="0.55"/>
  <circle cx="631.2" cy="59.5" r="20" fill="url(#hy)" opacity="0.55"/>
  <circle cx="620.6" cy="102.8" r="20" fill="url(#hy)" opacity="0.55"/>
  <circle cx="698.7" cy="34.1" r="18" fill="url(#hy)" opacity="0.5"/>
  <circle cx="695.3" cy="93.6" r="18" fill="url(#hy)" opacity="0.5"/>
  <circle cx="597" cy="48.5" r="26" fill="url(#hr)"/>
  <circle cx="598.5" cy="90.5" r="25" fill="url(#hr)"/>
  <circle cx="661.5" cy="11" r="24" fill="url(#hr)"/>
  <circle cx="717" cy="50" r="25" fill="url(#hr)"/>
  <circle cx="719" cy="85" r="25" fill="url(#hr)"/>
  <circle cx="654" cy="127.2" r="25" fill="url(#hr)"/>
 </g>
 <g stroke="#d8d0d0" stroke-width="0.8" fill="none" opacity="0.9">
  <polyline points="599.8,49.8 662.8,9.3 698.7,34.1 716,47.5 717.6,87 695.3,93.6 654,127.2 620.6,102.8 601,89 599.8,49.8"/>
  <line x1="631.2" y1="59.5" x2="662.8" y2="9.3"/>
  <line x1="631.2" y1="59.5" x2="698.7" y2="34.1"/>
  <line x1="620.6" y1="102.8" x2="695.3" y2="93.6"/>
  <line x1="601" y1="89" x2="631.2" y2="59.5"/>
  <line x1="698.7" y1="34.1" x2="717.6" y2="87"/>
  <line x1="716" y1="47.5" x2="695.3" y2="93.6"/>
  <line x1="599.8" y1="49.8" x2="620.6" y2="102.8"/>
 </g>
 <!-- bonds -->
 <g stroke-linecap="butt">
  <line x1="659.0" y1="68.2" x2="662.0" y2="10.0" stroke="#a88080" stroke-width="7.2"/><line x1="659.0" y1="68.2" x2="662.0" y2="10.0" stroke="#e8cccc" stroke-width="5.4"/><line x1="659.0" y1="68.2" x2="662.0" y2="10.0" stroke="#fbeeee" stroke-width="1.6" transform="translate(-0.8,-1.1)"/>
  <line x1="659.0" y1="68.2" x2="698.7" y2="34.1" stroke="#a88080" stroke-width="7.2"/><line x1="659.0" y1="68.2" x2="698.7" y2="34.1" stroke="#e8cccc" stroke-width="5.4"/><line x1="659.0" y1="68.2" x2="698.7" y2="34.1" stroke="#fbeeee" stroke-width="1.6" transform="translate(-0.8,-1.1)"/>
  <line x1="659.0" y1="68.2" x2="716.0" y2="48.5" stroke="#a88080" stroke-width="7.2"/><line x1="659.0" y1="68.2" x2="716.0" y2="48.5" stroke="#e8cccc" stroke-width="5.4"/><line x1="659.0" y1="68.2" x2="716.0" y2="48.5" stroke="#fbeeee" stroke-width="1.6" transform="translate(-0.8,-1.1)"/>
  <line x1="659.0" y1="68.2" x2="717.6" y2="86.0" stroke="#a88080" stroke-width="7.2"/><line x1="659.0" y1="68.2" x2="717.6" y2="86.0" stroke="#e8cccc" stroke-width="5.4"/><line x1="659.0" y1="68.2" x2="717.6" y2="86.0" stroke="#fbeeee" stroke-width="1.6" transform="translate(-0.8,-1.1)"/>
  <line x1="659.0" y1="68.2" x2="695.3" y2="93.6" stroke="#a88080" stroke-width="7.2"/><line x1="659.0" y1="68.2" x2="695.3" y2="93.6" stroke="#e8cccc" stroke-width="5.4"/><line x1="659.0" y1="68.2" x2="695.3" y2="93.6" stroke="#fbeeee" stroke-width="1.6" transform="translate(-0.8,-1.1)"/>
  <line x1="659.0" y1="68.2" x2="620.6" y2="102.8" stroke="#a88080" stroke-width="7.2"/><line x1="659.0" y1="68.2" x2="620.6" y2="102.8" stroke="#e8cccc" stroke-width="5.4"/><line x1="659.0" y1="68.2" x2="620.6" y2="102.8" stroke="#fbeeee" stroke-width="1.6" transform="translate(-0.8,-1.1)"/>
  <line x1="659.0" y1="68.2" x2="631.2" y2="59.5" stroke="#a88080" stroke-width="7.2"/><line x1="659.0" y1="68.2" x2="631.2" y2="59.5" stroke="#e8cccc" stroke-width="5.4"/><line x1="659.0" y1="68.2" x2="631.2" y2="59.5" stroke="#fbeeee" stroke-width="1.6" transform="translate(-0.8,-1.1)"/>
  <line x1="659.0" y1="68.2" x2="601.0" y2="89.0" stroke="#a88080" stroke-width="7.2"/><line x1="659.0" y1="68.2" x2="601.0" y2="89.0" stroke="#e8cccc" stroke-width="5.4"/><line x1="659.0" y1="68.2" x2="601.0" y2="89.0" stroke="#fbeeee" stroke-width="1.6" transform="translate(-0.8,-1.1)"/>
  <line x1="631.2" y1="59.5" x2="599.8" y2="49.8" stroke="#a88080" stroke-width="7.2"/><line x1="631.2" y1="59.5" x2="599.8" y2="49.8" stroke="#e8cccc" stroke-width="5.4"/><line x1="631.2" y1="59.5" x2="599.8" y2="49.8" stroke="#fbeeee" stroke-width="1.6" transform="translate(-0.8,-1.1)"/>
  <line x1="659.0" y1="68.2" x2="660.6" y2="36.2" stroke="#b45a0e" stroke-width="7.2"/><line x1="659.0" y1="68.2" x2="660.6" y2="36.2" stroke="#ee8424" stroke-width="5.4"/><line x1="659.0" y1="68.2" x2="660.6" y2="36.2" stroke="#f8b468" stroke-width="1.6" transform="translate(-0.8,-1.1)"/>
  <line x1="659.0" y1="68.2" x2="680.8" y2="49.4" stroke="#b45a0e" stroke-width="7.2"/><line x1="659.0" y1="68.2" x2="680.8" y2="49.4" stroke="#ee8424" stroke-width="5.4"/><line x1="659.0" y1="68.2" x2="680.8" y2="49.4" stroke="#f8b468" stroke-width="1.6" transform="translate(-0.8,-1.1)"/>
  <line x1="659.0" y1="68.2" x2="690.4" y2="57.4" stroke="#b45a0e" stroke-width="7.2"/><line x1="659.0" y1="68.2" x2="690.4" y2="57.4" stroke="#ee8424" stroke-width="5.4"/><line x1="659.0" y1="68.2" x2="690.4" y2="57.4" stroke="#f8b468" stroke-width="1.6" transform="translate(-0.8,-1.1)"/>
  <line x1="659.0" y1="68.2" x2="691.2" y2="78.0" stroke="#b45a0e" stroke-width="7.2"/><line x1="659.0" y1="68.2" x2="691.2" y2="78.0" stroke="#ee8424" stroke-width="5.4"/><line x1="659.0" y1="68.2" x2="691.2" y2="78.0" stroke="#f8b468" stroke-width="1.6" transform="translate(-0.8,-1.1)"/>
  <line x1="659.0" y1="68.2" x2="680.8" y2="83.4" stroke="#b45a0e" stroke-width="7.2"/><line x1="659.0" y1="68.2" x2="680.8" y2="83.4" stroke="#ee8424" stroke-width="5.4"/><line x1="659.0" y1="68.2" x2="680.8" y2="83.4" stroke="#f8b468" stroke-width="1.6" transform="translate(-0.8,-1.1)"/>
  <line x1="659.0" y1="68.2" x2="639.8" y2="85.5" stroke="#b45a0e" stroke-width="7.2"/><line x1="659.0" y1="68.2" x2="639.8" y2="85.5" stroke="#ee8424" stroke-width="5.4"/><line x1="659.0" y1="68.2" x2="639.8" y2="85.5" stroke="#f8b468" stroke-width="1.6" transform="translate(-0.8,-1.1)"/>
  <line x1="659.0" y1="68.2" x2="646.5" y2="64.3" stroke="#b45a0e" stroke-width="7.2"/><line x1="659.0" y1="68.2" x2="646.5" y2="64.3" stroke="#ee8424" stroke-width="5.4"/><line x1="659.0" y1="68.2" x2="646.5" y2="64.3" stroke="#f8b468" stroke-width="1.6" transform="translate(-0.8,-1.1)"/>
  <line x1="659.0" y1="68.2" x2="628.3" y2="79.2" stroke="#b45a0e" stroke-width="7.2"/><line x1="659.0" y1="68.2" x2="628.3" y2="79.2" stroke="#ee8424" stroke-width="5.4"/><line x1="659.0" y1="68.2" x2="628.3" y2="79.2" stroke="#f8b468" stroke-width="1.6" transform="translate(-0.8,-1.1)"/>
  <path d="M655.5,70 L658,92 L661.5,70 Z" fill="#e8801e" stroke="#b45a0e" stroke-width="0.8"/>
 </g>
 <circle cx="659" cy="68.2" r="8" fill="#e98424"/>
 <circle cx="659" cy="68.2" r="5" fill="url(#psph)"/>
 <text x="659" y="71" font-family="Liberation Sans" font-size="5" text-anchor="middle" fill="#222">3</text>
 <g fill="url(#hsph)">
  <circle cx="662" cy="10" r="6.2"/>
  <circle cx="698.7" cy="34.1" r="6.2"/>
  <circle cx="716" cy="48.5" r="6.2"/>
  <circle cx="717.6" cy="86" r="6.2"/>
  <circle cx="695.3" cy="93.6" r="6.2"/>
  <circle cx="631.2" cy="59.5" r="6.2"/>
  <circle cx="599.8" cy="49.8" r="6.2"/>
  <circle cx="620.6" cy="102.8" r="6.2"/>
  <circle cx="601" cy="89" r="6.2"/>
 </g>
 <g clip-path="url(#clipC)"><circle cx="654" cy="127.2" r="6.2" fill="#f07a40" opacity="0.85"/></g>
</g>
<!-- ===== Panel D ===== -->
<g id="panelD">
 <defs>
  <clipPath id="clipD"><polygon points="580.9,215.9 609.8,172.4 739.3,153.5 739.3,251.2"/></clipPath>
  <linearGradient id="dbase" x1="0" y1="0" x2="1" y2="0">
   <stop offset="0" stop-color="#b4e060"/>
   <stop offset="0.25" stop-color="#98e078"/>
   <stop offset="0.5" stop-color="#94e080"/>
   <stop offset="0.66" stop-color="#84e0a8"/>
   <stop offset="0.8" stop-color="#74e2d4"/>
   <stop offset="1" stop-color="#74e6e6"/>
  </linearGradient>
  <radialGradient id="dcy">
   <stop offset="0" stop-color="#40e8e8"/>
   <stop offset="0.6" stop-color="#50e4d8" stop-opacity="0.8"/>
   <stop offset="1" stop-color="#80e0a0" stop-opacity="0"/>
  </radialGradient>
  <radialGradient id="dy">
   <stop offset="0" stop-color="#f2e040"/>
   <stop offset="0.45" stop-color="#e8e640"/>
   <stop offset="0.75" stop-color="#c0e460" stop-opacity="0.6"/>
   <stop offset="1" stop-color="#a0e070" stop-opacity="0"/>
  </radialGradient>
  <radialGradient id="dr">
   <stop offset="0" stop-color="#f07058"/>
   <stop offset="0.3" stop-color="#f28850"/>
   <stop offset="0.52" stop-color="#f4b848"/>
   <stop offset="0.75" stop-color="#e6dc50" stop-opacity="0.7"/>
   <stop offset="1" stop-color="#d8e050" stop-opacity="0"/>
  </radialGradient>
  <radialGradient id="dlb">
   <stop offset="0" stop-color="#78c4f0"/>
   <stop offset="0.6" stop-color="#78d0ee" stop-opacity="0.7"/>
   <stop offset="1" stop-color="#70e0e0" stop-opacity="0"/>
  </radialGradient>
 </defs>
 <g clip-path="url(#clipD)">
  <rect x="575" y="150" width="170" height="105" fill="url(#dbase)"/>
  <ellipse cx="660" cy="177" rx="40" ry="16" transform="rotate(-18 660 177)" fill="url(#dy)"/>
  <ellipse cx="662" cy="228" rx="40" ry="16" transform="rotate(20 662 228)" fill="url(#dy)"/>
  <ellipse cx="632" cy="179" rx="18" ry="8" fill="url(#dy)" opacity="0.4"/>
  <ellipse cx="670" cy="203" rx="20" ry="14" fill="url(#dy)" opacity="0.55"/>
  <ellipse cx="592" cy="214" rx="12" ry="8" fill="url(#dy)" opacity="0.45"/>
  <ellipse cx="720" cy="200" rx="28" ry="20" fill="url(#dlb)"/>
  <circle cx="617.1" cy="205.6" r="24" fill="url(#dcy)"/>
  <ellipse cx="682" cy="171" rx="28" ry="17" fill="url(#dr)"/>
  <ellipse cx="686" cy="230" rx="28" ry="17" fill="url(#dr)"/>
 </g>
 <g stroke-linecap="butt">
  <g stroke="#8a9a8a" stroke-width="5.2">
   <line x1="617.1" y1="205.6" x2="687" y2="160.9"/>
   <line x1="617.1" y1="205.6" x2="691.8" y2="240.9"/>
  </g>
  <g stroke="#d4e4d4" stroke-width="3.4">
   <line x1="617.1" y1="205.6" x2="652" y2="183.2"/>
   <line x1="617.1" y1="205.6" x2="654.5" y2="223.3"/>
  </g>
  <g stroke="#a88080" stroke-width="5.2">
   <line x1="652" y1="183.2" x2="687" y2="160.9"/>
   <line x1="654.5" y1="223.3" x2="691.8" y2="240.9"/>
  </g>
  <g stroke="#f2dede" stroke-width="3.4">
   <line x1="652" y1="183.2" x2="687" y2="160.9"/>
   <line x1="654.5" y1="223.3" x2="691.8" y2="240.9"/>
  </g>
 </g>
 <circle cx="617.1" cy="205.6" r="14.8" fill="url(#mgsph)"/>
 <circle cx="687" cy="160.9" r="9.6" fill="url(#hsph)"/>
 <circle cx="691.8" cy="240.9" r="9.4" fill="url(#hsph)"/>
 <g font-family="Liberation Sans" font-size="4.5" fill="#222" text-anchor="middle">
  <text x="617.5" y="207.5" transform="rotate(-90 617.5 206)">Mg</text>
  <text x="687" y="162.5" transform="rotate(-90 687 161)">H</text>
  <text x="691.8" y="242.5" transform="rotate(-90 691.8 241)">H</text>
 </g>
</g>
</svg>
</body></html>
